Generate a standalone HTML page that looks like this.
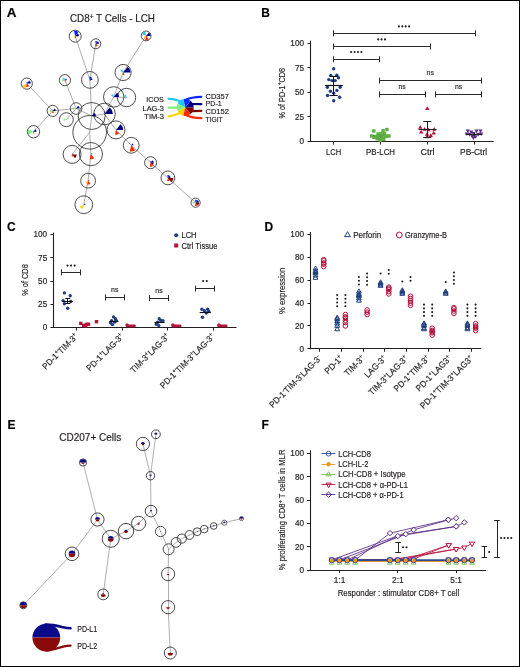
<!DOCTYPE html>
<html><head><meta charset="utf-8"><style>
html,body{margin:0;padding:0;background:#fff;}
svg{display:block;will-change:transform;}
text{font-family:"Liberation Sans", sans-serif;stroke:#231f20;stroke-width:0.18px;}
</style></head><body>
<svg width="520" height="667" viewBox="0 0 520 667">
<rect width="520" height="667" fill="#fff"/>
<rect x="0.5" y="0.5" width="519" height="666" fill="none" stroke="#000" stroke-width="1"/>
<text x="6.8" y="17.1" font-size="12" text-anchor="start" fill="#000" font-weight="bold" transform="translate(6.8 17.1) scale(1.12 1) translate(-6.8 -17.1)">A</text>
<text x="261.2" y="16.9" font-size="12" text-anchor="start" fill="#000" font-weight="bold">B</text>
<text x="7" y="230.7" font-size="12" text-anchor="start" fill="#000" font-weight="bold">C</text>
<text x="264.6" y="230.8" font-size="12" text-anchor="start" fill="#000" font-weight="bold">D</text>
<text x="7.6" y="428.8" font-size="12" text-anchor="start" fill="#000" font-weight="bold">E</text>
<text x="261.5" y="428.8" font-size="12" text-anchor="start" fill="#000" font-weight="bold">F</text>
<text x="70" y="22.3" font-size="10.4" text-anchor="start" fill="#231f20" textLength="85" lengthAdjust="spacingAndGlyphs">CD8<tspan font-size="7" dy="-3.6">+</tspan><tspan dy="3.6"> T Cells - LCH</tspan></text>
<line x1="75.2" y1="36.2" x2="89.9" y2="79.9" stroke="#9c9c9c" stroke-width="0.85"/>
<line x1="95.8" y1="43.8" x2="89.9" y2="79.9" stroke="#9c9c9c" stroke-width="0.85"/>
<line x1="146.1" y1="35.9" x2="123.1" y2="72.5" stroke="#9c9c9c" stroke-width="0.85"/>
<line x1="123.1" y1="72.5" x2="113.7" y2="96.9" stroke="#9c9c9c" stroke-width="0.85"/>
<line x1="113.7" y1="96.9" x2="104.5" y2="114" stroke="#9c9c9c" stroke-width="0.85"/>
<line x1="113.7" y1="96.9" x2="126.5" y2="97.5" stroke="#9c9c9c" stroke-width="0.85"/>
<line x1="89.9" y1="79.9" x2="91.7" y2="116" stroke="#9c9c9c" stroke-width="0.85"/>
<line x1="91.7" y1="116" x2="89.7" y2="132.3" stroke="#9c9c9c" stroke-width="0.85"/>
<line x1="89.7" y1="132.3" x2="90.9" y2="154.1" stroke="#9c9c9c" stroke-width="0.85"/>
<line x1="90.9" y1="154.1" x2="88.1" y2="180.7" stroke="#9c9c9c" stroke-width="0.85"/>
<line x1="88.1" y1="180.7" x2="83.8" y2="204.7" stroke="#9c9c9c" stroke-width="0.85"/>
<line x1="64.9" y1="80.2" x2="76.1" y2="108.5" stroke="#9c9c9c" stroke-width="0.85"/>
<line x1="26.8" y1="83.6" x2="52.7" y2="110.9" stroke="#9c9c9c" stroke-width="0.85"/>
<line x1="52.7" y1="110.9" x2="76.1" y2="108.5" stroke="#9c9c9c" stroke-width="0.85"/>
<line x1="52.7" y1="110.9" x2="33.5" y2="131.7" stroke="#9c9c9c" stroke-width="0.85"/>
<line x1="76.1" y1="108.5" x2="91.7" y2="116" stroke="#9c9c9c" stroke-width="0.85"/>
<line x1="66.3" y1="119.7" x2="76.1" y2="108.5" stroke="#9c9c9c" stroke-width="0.85"/>
<line x1="91.7" y1="116" x2="104.5" y2="114" stroke="#9c9c9c" stroke-width="0.85"/>
<line x1="104.5" y1="114" x2="116" y2="129.9" stroke="#9c9c9c" stroke-width="0.85"/>
<line x1="116" y1="129.9" x2="131.2" y2="145.3" stroke="#9c9c9c" stroke-width="0.85"/>
<line x1="131.2" y1="145.3" x2="150.6" y2="162.7" stroke="#9c9c9c" stroke-width="0.85"/>
<line x1="150.6" y1="162.7" x2="167.9" y2="177.9" stroke="#9c9c9c" stroke-width="0.85"/>
<line x1="167.9" y1="177.9" x2="195.6" y2="202.7" stroke="#9c9c9c" stroke-width="0.85"/>
<line x1="89.7" y1="132.3" x2="72.1" y2="154.4" stroke="#9c9c9c" stroke-width="0.85"/>
<circle cx="75.2" cy="36.2" r="6" fill="none" stroke="#3a3a3a" stroke-width="0.9"/>
<circle cx="95.8" cy="43.8" r="5" fill="none" stroke="#3a3a3a" stroke-width="0.9"/>
<circle cx="146.1" cy="35.9" r="4.9" fill="none" stroke="#3a3a3a" stroke-width="0.9"/>
<circle cx="89.9" cy="79.9" r="8.4" fill="none" stroke="#3a3a3a" stroke-width="0.9"/>
<circle cx="64.9" cy="80.2" r="5.6" fill="none" stroke="#3a3a3a" stroke-width="0.9"/>
<circle cx="26.8" cy="83.6" r="5.6" fill="none" stroke="#3a3a3a" stroke-width="0.9"/>
<circle cx="123.1" cy="72.5" r="8.1" fill="none" stroke="#3a3a3a" stroke-width="0.9"/>
<circle cx="113.7" cy="96.9" r="10.2" fill="none" stroke="#3a3a3a" stroke-width="0.9"/>
<circle cx="126.5" cy="97.5" r="9.2" fill="none" stroke="#3a3a3a" stroke-width="0.9"/>
<circle cx="52.7" cy="110.9" r="5.6" fill="none" stroke="#3a3a3a" stroke-width="0.9"/>
<circle cx="76.1" cy="108.5" r="5.8" fill="none" stroke="#3a3a3a" stroke-width="0.9"/>
<circle cx="66.3" cy="119.7" r="7" fill="none" stroke="#3a3a3a" stroke-width="0.9"/>
<circle cx="91.7" cy="116" r="13.5" fill="none" stroke="#3a3a3a" stroke-width="0.9"/>
<circle cx="104.5" cy="114" r="10.8" fill="none" stroke="#3a3a3a" stroke-width="0.9"/>
<circle cx="89.7" cy="132.3" r="16.8" fill="none" stroke="#3a3a3a" stroke-width="0.9"/>
<circle cx="116" cy="129.9" r="9" fill="none" stroke="#3a3a3a" stroke-width="0.9"/>
<circle cx="131.2" cy="145.3" r="7.9" fill="none" stroke="#3a3a3a" stroke-width="0.9"/>
<circle cx="150.6" cy="162.7" r="6" fill="none" stroke="#3a3a3a" stroke-width="0.9"/>
<circle cx="72.1" cy="154.4" r="9" fill="none" stroke="#3a3a3a" stroke-width="0.9"/>
<circle cx="90.9" cy="154.1" r="11.6" fill="none" stroke="#3a3a3a" stroke-width="0.9"/>
<circle cx="88.1" cy="180.7" r="7.4" fill="none" stroke="#3a3a3a" stroke-width="0.9"/>
<circle cx="83.8" cy="204.7" r="8.9" fill="none" stroke="#3a3a3a" stroke-width="0.9"/>
<circle cx="33.5" cy="131.7" r="6.2" fill="none" stroke="#3a3a3a" stroke-width="0.9"/>
<circle cx="167.9" cy="177.9" r="6.9" fill="none" stroke="#3a3a3a" stroke-width="0.9"/>
<circle cx="195.6" cy="202.7" r="4.6" fill="none" stroke="#3a3a3a" stroke-width="0.9"/>
<path d="M75.2,36.2 L79,36.2 A3.8,3.8 0 0 0 77.57,33.23 Z" fill="#00007f"/>
<path d="M75.2,36.2 L78.57,31.98 A5.4,5.4 0 0 0 74,30.94 Z" fill="#0a28ff"/>
<path d="M75.2,36.2 L75.09,35.71 A0.5,0.5 0 0 0 74.75,35.98 Z" fill="#1ec8f8"/>
<path d="M75.2,36.2 L74.48,35.85 A0.8,0.8 0 0 0 74.48,36.55 Z" fill="#7df07d"/>
<path d="M75.2,36.2 L73.85,36.85 A1.5,1.5 0 0 0 74.87,37.66 Z" fill="#ffd400"/>
<path d="M75.2,36.2 L74.8,37.95 A1.8,1.8 0 0 0 76.32,37.61 Z" fill="#ff2a00"/>
<path d="M75.2,36.2 L75.82,36.98 A1,1 0 0 0 76.2,36.2 Z" fill="#7f0000"/>
<path d="M95.8,43.8 L99,43.8 A3.2,3.2 0 0 0 97.8,41.3 Z" fill="#00007f"/>
<path d="M95.8,43.8 L97.55,41.61 A2.8,2.8 0 0 0 95.18,41.07 Z" fill="#0a28ff"/>
<path d="M95.8,43.8 L95.69,43.31 A0.5,0.5 0 0 0 95.35,43.58 Z" fill="#1ec8f8"/>
<path d="M95.8,43.8 L95.35,43.58 A0.5,0.5 0 0 0 95.35,44.02 Z" fill="#7df07d"/>
<path d="M95.8,43.8 L95.26,44.06 A0.6,0.6 0 0 0 95.67,44.38 Z" fill="#ffd400"/>
<path d="M95.8,43.8 L95.18,46.53 A2.8,2.8 0 0 0 97.55,45.99 Z" fill="#ff2a00"/>
<path d="M95.8,43.8 L96.74,44.97 A1.5,1.5 0 0 0 97.3,43.8 Z" fill="#7f0000"/>
<path d="M146.1,35.9 L150.5,35.9 A4.4,4.4 0 0 0 148.84,32.46 Z" fill="#00007f"/>
<path d="M146.1,35.9 L146.47,35.43 A0.6,0.6 0 0 0 145.97,35.32 Z" fill="#0a28ff"/>
<path d="M146.1,35.9 L145.12,31.61 A4.4,4.4 0 0 0 142.14,33.99 Z" fill="#1ec8f8"/>
<path d="M146.1,35.9 L145.56,35.64 A0.6,0.6 0 0 0 145.56,36.16 Z" fill="#7df07d"/>
<path d="M146.1,35.9 L143.85,36.98 A2.5,2.5 0 0 0 145.54,38.34 Z" fill="#ffd400"/>
<path d="M146.1,35.9 L145.12,40.19 A4.4,4.4 0 0 0 148.84,39.34 Z" fill="#ff2a00"/>
<path d="M146.1,35.9 L146.85,36.84 A1.2,1.2 0 0 0 147.3,35.9 Z" fill="#7f0000"/>
<path d="M89.9,79.9 L92.4,79.9 A2.5,2.5 0 0 0 91.46,77.95 Z" fill="#00007f"/>
<path d="M89.9,79.9 L91.9,77.4 A3.2,3.2 0 0 0 89.19,76.78 Z" fill="#0a28ff"/>
<path d="M89.9,79.9 L89.81,79.51 A0.4,0.4 0 0 0 89.54,79.73 Z" fill="#1ec8f8"/>
<path d="M89.9,79.9 L89.54,79.73 A0.4,0.4 0 0 0 89.54,80.07 Z" fill="#7df07d"/>
<path d="M89.9,79.9 L89.36,80.16 A0.6,0.6 0 0 0 89.77,80.48 Z" fill="#ffd400"/>
<path d="M89.9,79.9 L89.68,80.87 A1,1 0 0 0 90.52,80.68 Z" fill="#ff2a00"/>
<path d="M89.9,79.9 L90.52,80.68 A1,1 0 0 0 90.9,79.9 Z" fill="#7f0000"/>
<path d="M64.9,80.2 L66.9,80.2 A2,2 0 0 0 66.15,78.64 Z" fill="#00007f"/>
<path d="M64.9,80.2 L65.84,79.03 A1.5,1.5 0 0 0 64.57,78.74 Z" fill="#0a28ff"/>
<path d="M64.9,80.2 L64.28,77.47 A2.8,2.8 0 0 0 62.38,78.99 Z" fill="#1ec8f8"/>
<path d="M64.9,80.2 L62.2,78.9 A3,3 0 0 0 62.2,81.5 Z" fill="#7df07d"/>
<path d="M64.9,80.2 L64.36,80.46 A0.6,0.6 0 0 0 64.77,80.78 Z" fill="#ffd400"/>
<path d="M64.9,80.2 L64.63,81.37 A1.2,1.2 0 0 0 65.65,81.14 Z" fill="#ff2a00"/>
<path d="M64.9,80.2 L65.27,80.67 A0.6,0.6 0 0 0 65.5,80.2 Z" fill="#7f0000"/>
<path d="M26.8,83.6 L30.8,83.6 A4,4 0 0 0 29.29,80.47 Z" fill="#00007f"/>
<path d="M26.8,83.6 L27.74,82.43 A1.5,1.5 0 0 0 26.47,82.14 Z" fill="#0a28ff"/>
<path d="M26.8,83.6 L26.73,83.31 A0.3,0.3 0 0 0 26.53,83.47 Z" fill="#1ec8f8"/>
<path d="M26.8,83.6 L26.35,83.38 A0.5,0.5 0 0 0 26.35,83.82 Z" fill="#7df07d"/>
<path d="M26.8,83.6 L22.3,85.77 A5,5 0 0 0 25.69,88.47 Z" fill="#ffd400"/>
<path d="M26.8,83.6 L26.02,87.01 A3.5,3.5 0 0 0 28.98,86.34 Z" fill="#ff2a00"/>
<path d="M26.8,83.6 L27.42,84.38 A1,1 0 0 0 27.8,83.6 Z" fill="#7f0000"/>
<path d="M123.1,72.5 L130.6,72.5 A7.5,7.5 0 0 0 127.78,66.64 Z" fill="#00007f"/>
<path d="M123.1,72.5 L123.41,72.11 A0.5,0.5 0 0 0 122.99,72.01 Z" fill="#0a28ff"/>
<path d="M123.1,72.5 L122.39,69.38 A3.2,3.2 0 0 0 120.22,71.11 Z" fill="#1ec8f8"/>
<path d="M123.1,72.5 L122.83,72.37 A0.3,0.3 0 0 0 122.83,72.63 Z" fill="#7df07d"/>
<path d="M123.1,72.5 L122.83,72.63 A0.3,0.3 0 0 0 123.03,72.79 Z" fill="#ffd400"/>
<path d="M123.1,72.5 L122.57,74.84 A2.4,2.4 0 0 0 124.6,74.38 Z" fill="#ff2a00"/>
<path d="M123.1,72.5 L123.41,72.89 A0.5,0.5 0 0 0 123.6,72.5 Z" fill="#7f0000"/>
<path d="M113.7,96.9 L119.1,96.9 A5.4,5.4 0 0 0 117.07,92.68 Z" fill="#00007f"/>
<path d="M113.7,96.9 L113.95,96.59 A0.4,0.4 0 0 0 113.61,96.51 Z" fill="#0a28ff"/>
<path d="M113.7,96.9 L113.08,94.17 A2.8,2.8 0 0 0 111.18,95.69 Z" fill="#1ec8f8"/>
<path d="M113.7,96.9 L113.43,96.77 A0.3,0.3 0 0 0 113.43,97.03 Z" fill="#7df07d"/>
<path d="M113.7,96.9 L113.43,97.03 A0.3,0.3 0 0 0 113.63,97.19 Z" fill="#ffd400"/>
<path d="M113.7,96.9 L113.61,97.29 A0.4,0.4 0 0 0 113.95,97.21 Z" fill="#ff2a00"/>
<path d="M113.7,96.9 L113.89,97.13 A0.3,0.3 0 0 0 114,96.9 Z" fill="#7f0000"/>
<path d="M126.5,97.5 L127.1,97.5 A0.6,0.6 0 0 0 126.87,97.03 Z" fill="#00007f"/>
<path d="M126.5,97.5 L126.69,97.27 A0.3,0.3 0 0 0 126.43,97.21 Z" fill="#0a28ff"/>
<path d="M126.5,97.5 L125.88,94.77 A2.8,2.8 0 0 0 123.98,96.29 Z" fill="#1ec8f8"/>
<path d="M126.5,97.5 L126.23,97.37 A0.3,0.3 0 0 0 126.23,97.63 Z" fill="#7df07d"/>
<path d="M52.7,110.9 L55.7,110.9 A3,3 0 0 0 54.57,108.55 Z" fill="#00007f"/>
<path d="M52.7,110.9 L53.32,110.12 A1,1 0 0 0 52.48,109.93 Z" fill="#0a28ff"/>
<path d="M52.7,110.9 L52.52,110.12 A0.8,0.8 0 0 0 51.98,110.55 Z" fill="#1ec8f8"/>
<path d="M52.7,110.9 L50.18,109.69 A2.8,2.8 0 0 0 50.18,112.11 Z" fill="#7df07d"/>
<path d="M52.7,110.9 L50.72,111.85 A2.2,2.2 0 0 0 52.21,113.04 Z" fill="#ffd400"/>
<path d="M52.7,110.9 L52.21,113.04 A2.2,2.2 0 0 0 54.07,112.62 Z" fill="#ff2a00"/>
<path d="M52.7,110.9 L53.2,111.53 A0.8,0.8 0 0 0 53.5,110.9 Z" fill="#7f0000"/>
<path d="M76.1,108.5 L79.6,108.5 A3.5,3.5 0 0 0 78.28,105.76 Z" fill="#00007f"/>
<path d="M76.1,108.5 L76.47,108.03 A0.6,0.6 0 0 0 75.97,107.92 Z" fill="#0a28ff"/>
<path d="M76.1,108.5 L75.99,108.01 A0.5,0.5 0 0 0 75.65,108.28 Z" fill="#1ec8f8"/>
<path d="M76.1,108.5 L73.58,107.29 A2.8,2.8 0 0 0 73.58,109.71 Z" fill="#7df07d"/>
<path d="M76.1,108.5 L75.83,108.63 A0.3,0.3 0 0 0 76.03,108.79 Z" fill="#ffd400"/>
<path d="M76.1,108.5 L76.01,108.89 A0.4,0.4 0 0 0 76.35,108.81 Z" fill="#ff2a00"/>
<path d="M76.1,108.5 L76.29,108.73 A0.3,0.3 0 0 0 76.4,108.5 Z" fill="#7f0000"/>
<path d="M66.3,119.7 L66.6,119.7 A0.3,0.3 0 0 0 66.49,119.47 Z" fill="#00007f"/>
<path d="M66.3,119.7 L66.21,119.31 A0.4,0.4 0 0 0 65.94,119.53 Z" fill="#1ec8f8"/>
<path d="M66.3,119.7 L63.78,118.49 A2.8,2.8 0 0 0 63.78,120.91 Z" fill="#7df07d"/>
<path d="M91.7,116 L95.9,116 A4.2,4.2 0 0 0 94.32,112.72 Z" fill="#00007f"/>
<path d="M91.7,116 L91.95,115.69 A0.4,0.4 0 0 0 91.61,115.61 Z" fill="#0a28ff"/>
<path d="M91.7,116 L91.63,115.71 A0.3,0.3 0 0 0 91.43,115.87 Z" fill="#1ec8f8"/>
<path d="M91.7,116 L91.63,116.29 A0.3,0.3 0 0 0 91.89,116.23 Z" fill="#ff2a00"/>
<path d="M104.5,114 L112.7,114 A8.2,8.2 0 0 0 109.61,107.59 Z" fill="#00007f"/>
<path d="M104.5,114 L104.75,113.69 A0.4,0.4 0 0 0 104.41,113.61 Z" fill="#0a28ff"/>
<path d="M104.5,114 L104.43,113.71 A0.3,0.3 0 0 0 104.23,113.87 Z" fill="#1ec8f8"/>
<path d="M104.5,114 L104.43,114.29 A0.3,0.3 0 0 0 104.69,114.23 Z" fill="#ff2a00"/>
<path d="M104.5,114 L104.69,114.23 A0.3,0.3 0 0 0 104.8,114 Z" fill="#7f0000"/>
<path d="M89.7,132.3 L90,132.3 A0.3,0.3 0 0 0 89.89,132.07 Z" fill="#00007f"/>
<path d="M116,129.9 L123.2,129.9 A7.2,7.2 0 0 0 120.49,124.27 Z" fill="#00007f"/>
<path d="M116,129.9 L116.25,129.59 A0.4,0.4 0 0 0 115.91,129.51 Z" fill="#0a28ff"/>
<path d="M116,129.9 L115.93,129.61 A0.3,0.3 0 0 0 115.73,129.77 Z" fill="#1ec8f8"/>
<path d="M116,129.9 L114.93,134.58 A4.8,4.8 0 0 0 118.99,133.65 Z" fill="#ff2a00"/>
<path d="M116,129.9 L116.25,130.21 A0.4,0.4 0 0 0 116.4,129.9 Z" fill="#7f0000"/>
<path d="M131.2,145.3 L133.4,145.3 A2.2,2.2 0 0 0 132.57,143.58 Z" fill="#00007f"/>
<path d="M131.2,145.3 L131.57,144.83 A0.6,0.6 0 0 0 131.07,144.72 Z" fill="#0a28ff"/>
<path d="M131.2,145.3 L129.8,151.44 A6.3,6.3 0 0 0 135.13,150.23 Z" fill="#ff2a00"/>
<path d="M131.2,145.3 L131.51,145.69 A0.5,0.5 0 0 0 131.7,145.3 Z" fill="#7f0000"/>
<path d="M150.6,162.7 L153.8,162.7 A3.2,3.2 0 0 0 152.6,160.2 Z" fill="#00007f"/>
<path d="M150.6,162.7 L151.72,161.29 A1.8,1.8 0 0 0 150.2,160.95 Z" fill="#0a28ff"/>
<path d="M150.6,162.7 L150.53,162.41 A0.3,0.3 0 0 0 150.33,162.57 Z" fill="#1ec8f8"/>
<path d="M150.6,162.7 L150.33,162.57 A0.3,0.3 0 0 0 150.33,162.83 Z" fill="#7df07d"/>
<path d="M150.6,162.7 L150.15,162.92 A0.5,0.5 0 0 0 150.49,163.19 Z" fill="#ffd400"/>
<path d="M150.6,162.7 L149.71,166.6 A4,4 0 0 0 153.09,165.83 Z" fill="#ff2a00"/>
<path d="M150.6,162.7 L152.47,165.05 A3,3 0 0 0 153.6,162.7 Z" fill="#7f0000"/>
<path d="M72.1,154.4 L73.1,154.4 A1,1 0 0 0 72.72,153.62 Z" fill="#00007f"/>
<path d="M72.1,154.4 L72.29,154.17 A0.3,0.3 0 0 0 72.03,154.11 Z" fill="#0a28ff"/>
<path d="M72.1,154.4 L71.83,154.53 A0.3,0.3 0 0 0 72.03,154.69 Z" fill="#ffd400"/>
<path d="M72.1,154.4 L71.65,156.35 A2,2 0 0 0 73.35,155.96 Z" fill="#ff2a00"/>
<path d="M72.1,154.4 L74.97,158 A4.6,4.6 0 0 0 76.7,154.4 Z" fill="#7f0000"/>
<path d="M90.9,154.1 L91.9,154.1 A1,1 0 0 0 91.52,153.32 Z" fill="#00007f"/>
<path d="M90.9,154.1 L91.21,153.71 A0.5,0.5 0 0 0 90.79,153.61 Z" fill="#0a28ff"/>
<path d="M90.9,154.1 L90.63,154.23 A0.3,0.3 0 0 0 90.83,154.39 Z" fill="#ffd400"/>
<path d="M90.9,154.1 L89.74,159.17 A5.2,5.2 0 0 0 94.14,158.17 Z" fill="#ff2a00"/>
<path d="M90.9,154.1 L91.27,154.57 A0.6,0.6 0 0 0 91.5,154.1 Z" fill="#7f0000"/>
<path d="M88.1,180.7 L89.3,180.7 A1.2,1.2 0 0 0 88.85,179.76 Z" fill="#00007f"/>
<path d="M88.1,180.7 L88.41,180.31 A0.5,0.5 0 0 0 87.99,180.21 Z" fill="#0a28ff"/>
<path d="M88.1,180.7 L85.4,182 A3,3 0 0 0 87.43,183.62 Z" fill="#ffd400"/>
<path d="M88.1,180.7 L87.25,184.4 A3.8,3.8 0 0 0 90.47,183.67 Z" fill="#ff2a00"/>
<path d="M88.1,180.7 L88.47,181.17 A0.6,0.6 0 0 0 88.7,180.7 Z" fill="#7f0000"/>
<path d="M83.8,204.7 L85.4,204.7 A1.6,1.6 0 0 0 84.8,203.45 Z" fill="#00007f"/>
<path d="M83.8,204.7 L84.05,204.39 A0.4,0.4 0 0 0 83.71,204.31 Z" fill="#0a28ff"/>
<path d="M83.8,204.7 L79.84,206.61 A4.4,4.4 0 0 0 82.82,208.99 Z" fill="#ffd400"/>
<path d="M83.8,204.7 L83.69,205.19 A0.5,0.5 0 0 0 84.11,205.09 Z" fill="#ff2a00"/>
<path d="M83.8,204.7 L83.99,204.93 A0.3,0.3 0 0 0 84.1,204.7 Z" fill="#7f0000"/>
<path d="M33.5,131.7 L36.5,131.7 A3,3 0 0 0 35.37,129.35 Z" fill="#00007f"/>
<path d="M33.5,131.7 L34.12,130.92 A1,1 0 0 0 33.28,130.73 Z" fill="#0a28ff"/>
<path d="M33.5,131.7 L33.43,131.41 A0.3,0.3 0 0 0 33.23,131.57 Z" fill="#1ec8f8"/>
<path d="M33.5,131.7 L28.45,129.27 A5.6,5.6 0 0 0 28.45,134.13 Z" fill="#7df07d"/>
<path d="M33.5,131.7 L32.96,131.96 A0.6,0.6 0 0 0 33.37,132.28 Z" fill="#ffd400"/>
<path d="M33.5,131.7 L33.1,133.45 A1.8,1.8 0 0 0 34.62,133.11 Z" fill="#ff2a00"/>
<path d="M33.5,131.7 L33.87,132.17 A0.6,0.6 0 0 0 34.1,131.7 Z" fill="#7f0000"/>
<path d="M167.9,177.9 L170.5,177.9 A2.6,2.6 0 0 0 169.52,175.87 Z" fill="#00007f"/>
<path d="M167.9,177.9 L169.77,175.55 A3,3 0 0 0 167.23,174.98 Z" fill="#0a28ff"/>
<path d="M167.9,177.9 L167.83,177.61 A0.3,0.3 0 0 0 167.63,177.77 Z" fill="#1ec8f8"/>
<path d="M167.9,177.9 L167.63,177.77 A0.3,0.3 0 0 0 167.63,178.03 Z" fill="#7df07d"/>
<path d="M167.9,177.9 L167,178.33 A1,1 0 0 0 167.68,178.87 Z" fill="#ffd400"/>
<path d="M167.9,177.9 L167.19,181.02 A3.2,3.2 0 0 0 169.9,180.4 Z" fill="#ff2a00"/>
<path d="M167.9,177.9 L171.33,182.2 A5.5,5.5 0 0 0 173.4,177.9 Z" fill="#7f0000"/>
<path d="M195.6,202.7 L199,202.7 A3.4,3.4 0 0 0 197.72,200.04 Z" fill="#00007f"/>
<path d="M195.6,202.7 L197.47,200.35 A3,3 0 0 0 194.93,199.78 Z" fill="#0a28ff"/>
<path d="M195.6,202.7 L195.49,202.21 A0.5,0.5 0 0 0 195.15,202.48 Z" fill="#1ec8f8"/>
<path d="M195.6,202.7 L192.9,201.4 A3,3 0 0 0 192.9,204 Z" fill="#7df07d"/>
<path d="M195.6,202.7 L195.06,202.96 A0.6,0.6 0 0 0 195.47,203.28 Z" fill="#ffd400"/>
<path d="M195.6,202.7 L194.84,206.01 A3.4,3.4 0 0 0 197.72,205.36 Z" fill="#ff2a00"/>
<path d="M195.6,202.7 L197.84,205.51 A3.6,3.6 0 0 0 199.2,202.7 Z" fill="#7f0000"/>
<path d="M168.6,98.8 C172,98.6 175,99.4 180.5,101.2" fill="none" stroke="#1ec8f8" stroke-width="2.2" stroke-linecap="round"/>
<path d="M168.6,107.6 L178,107.6" fill="none" stroke="#7df07d" stroke-width="2.2" stroke-linecap="round"/>
<path d="M168.6,116.3 C172,116.3 175,115 179.5,113.2" fill="none" stroke="#ffd400" stroke-width="2.2" stroke-linecap="round"/>
<path d="M186.5,99.5 C190,97.6 195,97 201.3,96.8" fill="none" stroke="#0a28ff" stroke-width="2.2" stroke-linecap="round"/>
<path d="M192,104 L201.3,104.2" fill="none" stroke="#00007f" stroke-width="2.2" stroke-linecap="round"/>
<path d="M192,111.2 L201.3,110.8" fill="none" stroke="#7f0000" stroke-width="2.2" stroke-linecap="round"/>
<path d="M187,115.5 C191,117.5 195,118 201.3,118.2" fill="none" stroke="#ff2a00" stroke-width="2.2" stroke-linecap="round"/>
<path d="M185.2,107.4 L193.7,107.4 A8.5,8.5 0 0 0 190.5,100.75 Z" fill="#00007f"/>
<path d="M185.2,107.4 L190.5,100.75 A8.5,8.5 0 0 0 183.31,99.11 Z" fill="#0a28ff"/>
<path d="M185.2,107.4 L183.31,99.11 A8.5,8.5 0 0 0 177.54,103.71 Z" fill="#1ec8f8"/>
<path d="M185.2,107.4 L177.54,103.71 A8.5,8.5 0 0 0 177.54,111.09 Z" fill="#7df07d"/>
<path d="M185.2,107.4 L177.54,111.09 A8.5,8.5 0 0 0 183.31,115.69 Z" fill="#ffd400"/>
<path d="M185.2,107.4 L183.31,115.69 A8.5,8.5 0 0 0 190.5,114.05 Z" fill="#ff2a00"/>
<path d="M185.2,107.4 L190.5,114.05 A8.5,8.5 0 0 0 193.7,107.4 Z" fill="#7f0000"/>
<text x="163.9" y="101.8" font-size="7.6" text-anchor="end" fill="#231f20" textLength="17.6" lengthAdjust="spacingAndGlyphs">ICOS</text>
<text x="163.9" y="110.5" font-size="7.6" text-anchor="end" fill="#231f20" textLength="21.3" lengthAdjust="spacingAndGlyphs">LAG-3</text>
<text x="163.9" y="119.4" font-size="7.6" text-anchor="end" fill="#231f20" textLength="19.6" lengthAdjust="spacingAndGlyphs">TIM-3</text>
<text x="205.6" y="98.8" font-size="7.6" text-anchor="start" fill="#231f20" textLength="23.2" lengthAdjust="spacingAndGlyphs">CD357</text>
<text x="205.6" y="106.3" font-size="7.6" text-anchor="start" fill="#231f20" textLength="16.2" lengthAdjust="spacingAndGlyphs">PD-1</text>
<text x="205.6" y="113.9" font-size="7.6" text-anchor="start" fill="#231f20" textLength="23.2" lengthAdjust="spacingAndGlyphs">CD152</text>
<text x="205.6" y="121.6" font-size="7.6" text-anchor="start" fill="#231f20" textLength="17.1" lengthAdjust="spacingAndGlyphs">TIGIT</text>
<line x1="310.5" y1="40.7" x2="310.5" y2="142" stroke="#231f20" stroke-width="1.1"/>
<line x1="310" y1="141.5" x2="493.7" y2="141.5" stroke="#231f20" stroke-width="1.1"/>
<line x1="307.5" y1="141.5" x2="310.5" y2="141.5" stroke="#231f20" stroke-width="1"/>
<text x="304" y="144.4" font-size="8.2" text-anchor="end" fill="#231f20">0</text>
<line x1="307.5" y1="116.5" x2="310.5" y2="116.5" stroke="#231f20" stroke-width="1"/>
<text x="304" y="119.85" font-size="8.2" text-anchor="end" fill="#231f20">25</text>
<line x1="307.5" y1="92.5" x2="310.5" y2="92.5" stroke="#231f20" stroke-width="1"/>
<text x="304" y="95.3" font-size="8.2" text-anchor="end" fill="#231f20">50</text>
<line x1="307.5" y1="67.5" x2="310.5" y2="67.5" stroke="#231f20" stroke-width="1"/>
<text x="304" y="70.75" font-size="8.2" text-anchor="end" fill="#231f20">75</text>
<line x1="307.5" y1="43.5" x2="310.5" y2="43.5" stroke="#231f20" stroke-width="1"/>
<text x="304" y="46.2" font-size="8.2" text-anchor="end" fill="#231f20">100</text>
<line x1="333.5" y1="141.5" x2="333.5" y2="144.5" stroke="#231f20" stroke-width="1"/>
<line x1="380.5" y1="141.5" x2="380.5" y2="144.5" stroke="#231f20" stroke-width="1"/>
<line x1="427.5" y1="141.5" x2="427.5" y2="144.5" stroke="#231f20" stroke-width="1"/>
<line x1="474.5" y1="141.5" x2="474.5" y2="144.5" stroke="#231f20" stroke-width="1"/>
<text x="333.6" y="155" font-size="8.5" text-anchor="middle" fill="#231f20" textLength="15.2" lengthAdjust="spacingAndGlyphs">LCH</text>
<text x="380.6" y="155" font-size="8.5" text-anchor="middle" fill="#231f20" textLength="29" lengthAdjust="spacingAndGlyphs">PB-LCH</text>
<text x="427.4" y="155" font-size="8.5" text-anchor="middle" fill="#231f20" textLength="14" lengthAdjust="spacingAndGlyphs">Ctrl</text>
<text x="473.6" y="155" font-size="8.5" text-anchor="middle" fill="#231f20" textLength="27" lengthAdjust="spacingAndGlyphs">PB-Ctrl</text>
<text x="284.6" y="93.2" font-size="8.8" text-anchor="middle" fill="#231f20" textLength="50.7" lengthAdjust="spacingAndGlyphs" transform="rotate(-90 284.6 93.2)">% of PD-1<tspan font-size="6" dy="-3.4">+</tspan><tspan dy="3.4">CD8</tspan></text>
<line x1="333" y1="33.5" x2="475" y2="33.5" stroke="#2a2a2a" stroke-width="1.0"/>
<line x1="333.5" y1="30.3" x2="333.5" y2="36.3" stroke="#2a2a2a" stroke-width="1.0"/>
<line x1="475.5" y1="30.3" x2="475.5" y2="36.3" stroke="#2a2a2a" stroke-width="1.0"/>
<circle cx="398.9" cy="26.4" r="1.05" fill="#1c1c1c" stroke="none" stroke-width="1"/>
<circle cx="402.3" cy="26.4" r="1.05" fill="#1c1c1c" stroke="none" stroke-width="1"/>
<circle cx="405.7" cy="26.4" r="1.05" fill="#1c1c1c" stroke="none" stroke-width="1"/>
<circle cx="409.1" cy="26.4" r="1.05" fill="#1c1c1c" stroke="none" stroke-width="1"/>
<line x1="333" y1="46.5" x2="430" y2="46.5" stroke="#2a2a2a" stroke-width="1.0"/>
<line x1="333.5" y1="43.5" x2="333.5" y2="49.5" stroke="#2a2a2a" stroke-width="1.0"/>
<line x1="430.5" y1="43.5" x2="430.5" y2="49.5" stroke="#2a2a2a" stroke-width="1.0"/>
<circle cx="378.2" cy="39.4" r="1.05" fill="#1c1c1c" stroke="none" stroke-width="1"/>
<circle cx="381.6" cy="39.4" r="1.05" fill="#1c1c1c" stroke="none" stroke-width="1"/>
<circle cx="385" cy="39.4" r="1.05" fill="#1c1c1c" stroke="none" stroke-width="1"/>
<line x1="333" y1="59.5" x2="379.2" y2="59.5" stroke="#2a2a2a" stroke-width="1.0"/>
<line x1="333.5" y1="56.3" x2="333.5" y2="62.3" stroke="#2a2a2a" stroke-width="1.0"/>
<line x1="379.5" y1="56.3" x2="379.5" y2="62.3" stroke="#2a2a2a" stroke-width="1.0"/>
<circle cx="351.2" cy="52" r="1.05" fill="#1c1c1c" stroke="none" stroke-width="1"/>
<circle cx="354.6" cy="52" r="1.05" fill="#1c1c1c" stroke="none" stroke-width="1"/>
<circle cx="358" cy="52" r="1.05" fill="#1c1c1c" stroke="none" stroke-width="1"/>
<circle cx="361.4" cy="52" r="1.05" fill="#1c1c1c" stroke="none" stroke-width="1"/>
<line x1="379" y1="80.5" x2="481.7" y2="80.5" stroke="#2a2a2a" stroke-width="1.0"/>
<line x1="379.5" y1="77.6" x2="379.5" y2="83.6" stroke="#2a2a2a" stroke-width="1.0"/>
<line x1="481.5" y1="77.6" x2="481.5" y2="83.6" stroke="#2a2a2a" stroke-width="1.0"/>
<text x="430.2" y="75" font-size="7.5" text-anchor="middle" fill="#333" textLength="7.2" lengthAdjust="spacingAndGlyphs">ns</text>
<line x1="379" y1="94.5" x2="425.1" y2="94.5" stroke="#2a2a2a" stroke-width="1.0"/>
<line x1="379.5" y1="91.4" x2="379.5" y2="97.4" stroke="#2a2a2a" stroke-width="1.0"/>
<line x1="425.5" y1="91.4" x2="425.5" y2="97.4" stroke="#2a2a2a" stroke-width="1.0"/>
<text x="402" y="89" font-size="7.5" text-anchor="middle" fill="#333" textLength="7.2" lengthAdjust="spacingAndGlyphs">ns</text>
<line x1="435.3" y1="94.5" x2="481.7" y2="94.5" stroke="#2a2a2a" stroke-width="1.0"/>
<line x1="435.5" y1="91.4" x2="435.5" y2="97.4" stroke="#2a2a2a" stroke-width="1.0"/>
<line x1="481.5" y1="91.4" x2="481.5" y2="97.4" stroke="#2a2a2a" stroke-width="1.0"/>
<text x="458.5" y="89" font-size="7.5" text-anchor="middle" fill="#333" textLength="7.2" lengthAdjust="spacingAndGlyphs">ns</text>
<circle cx="333.7" cy="68.7" r="1.7" fill="#1f3d84" stroke="none" stroke-width="1"/>
<circle cx="330.8" cy="75.4" r="1.7" fill="#1f3d84" stroke="none" stroke-width="1"/>
<circle cx="336.8" cy="75.2" r="1.7" fill="#1f3d84" stroke="none" stroke-width="1"/>
<circle cx="338.5" cy="77.7" r="1.7" fill="#1f3d84" stroke="none" stroke-width="1"/>
<circle cx="328.8" cy="79.6" r="1.7" fill="#1f3d84" stroke="none" stroke-width="1"/>
<circle cx="331.9" cy="80.6" r="1.7" fill="#1f3d84" stroke="none" stroke-width="1"/>
<circle cx="335.2" cy="80.6" r="1.7" fill="#1f3d84" stroke="none" stroke-width="1"/>
<circle cx="327.3" cy="87.3" r="1.7" fill="#1f3d84" stroke="none" stroke-width="1"/>
<circle cx="340.2" cy="87.3" r="1.7" fill="#1f3d84" stroke="none" stroke-width="1"/>
<circle cx="330.4" cy="91.2" r="1.7" fill="#1f3d84" stroke="none" stroke-width="1"/>
<circle cx="336.9" cy="90.4" r="1.7" fill="#1f3d84" stroke="none" stroke-width="1"/>
<circle cx="333.7" cy="93.2" r="1.7" fill="#1f3d84" stroke="none" stroke-width="1"/>
<circle cx="327.5" cy="95.5" r="1.7" fill="#1f3d84" stroke="none" stroke-width="1"/>
<circle cx="339.6" cy="97.3" r="1.7" fill="#1f3d84" stroke="none" stroke-width="1"/>
<circle cx="333.7" cy="100.8" r="1.7" fill="#1f3d84" stroke="none" stroke-width="1"/>
<line x1="324.8" y1="85.5" x2="342.8" y2="85.5" stroke="#111" stroke-width="1.2"/>
<line x1="333.5" y1="76.4" x2="333.5" y2="95" stroke="#111" stroke-width="1.0"/>
<line x1="329.7" y1="76.5" x2="337.7" y2="76.5" stroke="#111" stroke-width="1.0"/>
<line x1="329.7" y1="95.5" x2="337.7" y2="95.5" stroke="#111" stroke-width="1.0"/>
<line x1="371.2" y1="135.5" x2="389.6" y2="135.5" stroke="#222" stroke-width="1.0"/>
<line x1="380.5" y1="133.5" x2="380.5" y2="138" stroke="#222" stroke-width="1.0"/>
<rect x="372.1" y="129.3" width="3.4" height="3.4" fill="#5fae43"/>
<rect x="381.4" y="129.1" width="3.4" height="3.4" fill="#5fae43"/>
<rect x="385.2" y="127.9" width="3.4" height="3.4" fill="#5fae43"/>
<rect x="376.3" y="132.3" width="3.4" height="3.4" fill="#5fae43"/>
<rect x="379.3" y="131.9" width="3.4" height="3.4" fill="#5fae43"/>
<rect x="382.8" y="131.9" width="3.4" height="3.4" fill="#5fae43"/>
<rect x="373.9" y="134.7" width="3.4" height="3.4" fill="#5fae43"/>
<rect x="383.5" y="134.7" width="3.4" height="3.4" fill="#5fae43"/>
<rect x="377.5" y="137.3" width="3.4" height="3.4" fill="#5fae43"/>
<rect x="380.6" y="137.1" width="3.4" height="3.4" fill="#5fae43"/>
<rect x="378.5" y="138.7" width="3.4" height="3.4" fill="#5fae43"/>
<rect x="372.3" y="135.7" width="3.4" height="3.4" fill="#5fae43"/>
<rect x="385.3" y="134.3" width="3.4" height="3.4" fill="#5fae43"/>
<rect x="375.5" y="136.9" width="3.4" height="3.4" fill="#5fae43"/>
<rect x="382.1" y="137.7" width="3.4" height="3.4" fill="#5fae43"/>
<rect x="376.9" y="134.5" width="3.4" height="3.4" fill="#5fae43"/>
<rect x="380.3" y="134.3" width="3.4" height="3.4" fill="#5fae43"/>
<rect x="369.9" y="134.3" width="3.4" height="3.4" fill="#5fae43"/>
<rect x="387.3" y="134.3" width="3.4" height="3.4" fill="#5fae43"/>
<polygon points="425.15,109.94 429.45,109.94 427.3,106.22" fill="#b8113b" stroke="none" stroke-width="1"/>
<polygon points="418.05,128.74 422.35,128.74 420.2,125.02" fill="#b8113b" stroke="none" stroke-width="1"/>
<polygon points="422.45,130.64 426.75,130.64 424.6,126.92" fill="#b8113b" stroke="none" stroke-width="1"/>
<polygon points="426.35,131.24 430.65,131.24 428.5,127.52" fill="#b8113b" stroke="none" stroke-width="1"/>
<polygon points="432.05,130.64 436.35,130.64 434.2,126.92" fill="#b8113b" stroke="none" stroke-width="1"/>
<polygon points="419.05,133.54 423.35,133.54 421.2,129.82" fill="#b8113b" stroke="none" stroke-width="1"/>
<polygon points="424.85,135.84 429.15,135.84 427,132.12" fill="#b8113b" stroke="none" stroke-width="1"/>
<polygon points="431.55,134.54 435.85,134.54 433.7,130.82" fill="#b8113b" stroke="none" stroke-width="1"/>
<polygon points="428.65,137.04 432.95,137.04 430.8,133.32" fill="#b8113b" stroke="none" stroke-width="1"/>
<polygon points="425.15,138.34 429.45,138.34 427.3,134.62" fill="#b8113b" stroke="none" stroke-width="1"/>
<line x1="418.5" y1="129.5" x2="436.5" y2="129.5" stroke="#222" stroke-width="1.0"/>
<line x1="427.5" y1="121" x2="427.5" y2="137.2" stroke="#222" stroke-width="1.0"/>
<line x1="423.3" y1="121.5" x2="431.3" y2="121.5" stroke="#222" stroke-width="1.0"/>
<line x1="423.3" y1="137.5" x2="431.3" y2="137.5" stroke="#222" stroke-width="1.0"/>
<polygon points="465.7,129.39 469.9,129.39 467.8,133.02" fill="#5b2a86" stroke="none" stroke-width="1"/>
<polygon points="469.1,130.39 473.3,130.39 471.2,134.02" fill="#5b2a86" stroke="none" stroke-width="1"/>
<polygon points="474.4,129.59 478.6,129.59 476.5,133.22" fill="#5b2a86" stroke="none" stroke-width="1"/>
<polygon points="478.4,129.39 482.6,129.39 480.5,133.02" fill="#5b2a86" stroke="none" stroke-width="1"/>
<polygon points="467.4,132.79 471.6,132.79 469.5,136.42" fill="#5b2a86" stroke="none" stroke-width="1"/>
<polygon points="471.4,131.99 475.6,131.99 473.5,135.62" fill="#5b2a86" stroke="none" stroke-width="1"/>
<polygon points="476.1,132.79 480.3,132.79 478.2,136.42" fill="#5b2a86" stroke="none" stroke-width="1"/>
<polygon points="470.2,134.99 474.4,134.99 472.3,138.62" fill="#5b2a86" stroke="none" stroke-width="1"/>
<polygon points="473.5,135.19 477.7,135.19 475.6,138.82" fill="#5b2a86" stroke="none" stroke-width="1"/>
<polygon points="471.3,136.39 475.5,136.39 473.4,140.02" fill="#5b2a86" stroke="none" stroke-width="1"/>
<polygon points="464.7,132.39 468.9,132.39 466.8,136.02" fill="#5b2a86" stroke="none" stroke-width="1"/>
<polygon points="479.1,132.39 483.3,132.39 481.2,136.02" fill="#5b2a86" stroke="none" stroke-width="1"/>
<line x1="465.5" y1="134.5" x2="482.5" y2="134.5" stroke="#222" stroke-width="1.0"/>
<line x1="474.5" y1="132" x2="474.5" y2="136.5" stroke="#222" stroke-width="1.0"/>
<line x1="53.5" y1="232.5" x2="53.5" y2="328" stroke="#231f20" stroke-width="1.1"/>
<line x1="53" y1="327.5" x2="236.5" y2="327.5" stroke="#231f20" stroke-width="1.1"/>
<line x1="50.5" y1="327.5" x2="53.5" y2="327.5" stroke="#231f20" stroke-width="1"/>
<text x="47.2" y="330.4" font-size="8.2" text-anchor="end" fill="#231f20">0</text>
<line x1="50.5" y1="304.5" x2="53.5" y2="304.5" stroke="#231f20" stroke-width="1"/>
<text x="47.2" y="307.15" font-size="8.2" text-anchor="end" fill="#231f20">25</text>
<line x1="50.5" y1="281.5" x2="53.5" y2="281.5" stroke="#231f20" stroke-width="1"/>
<text x="47.2" y="283.9" font-size="8.2" text-anchor="end" fill="#231f20">50</text>
<line x1="50.5" y1="257.5" x2="53.5" y2="257.5" stroke="#231f20" stroke-width="1"/>
<text x="47.2" y="260.65" font-size="8.2" text-anchor="end" fill="#231f20">75</text>
<line x1="50.5" y1="234.5" x2="53.5" y2="234.5" stroke="#231f20" stroke-width="1"/>
<text x="47.2" y="237.4" font-size="8.2" text-anchor="end" fill="#231f20">100</text>
<line x1="76.5" y1="327.5" x2="76.5" y2="330.5" stroke="#231f20" stroke-width="1"/>
<line x1="122.5" y1="327.5" x2="122.5" y2="330.5" stroke="#231f20" stroke-width="1"/>
<line x1="167.5" y1="327.5" x2="167.5" y2="330.5" stroke="#231f20" stroke-width="1"/>
<line x1="213.5" y1="327.5" x2="213.5" y2="330.5" stroke="#231f20" stroke-width="1"/>
<text x="28.3" y="280" font-size="9.9" text-anchor="middle" fill="#231f20" textLength="31.7" lengthAdjust="spacingAndGlyphs" transform="rotate(-90 28.3 280)">% of CD8</text>
<circle cx="176.2" cy="235.2" r="2" fill="#1f3d84" stroke="none" stroke-width="1"/>
<text x="181.5" y="238" font-size="8.5" text-anchor="start" fill="#231f20" textLength="15" lengthAdjust="spacingAndGlyphs">LCH</text>
<rect x="174.2" y="243.5" width="4" height="4" fill="#b5123a"/>
<text x="181.5" y="248.6" font-size="8.5" text-anchor="start" fill="#231f20" textLength="36" lengthAdjust="spacingAndGlyphs">Ctrl Tissue</text>
<line x1="61.6" y1="272.5" x2="80.5" y2="272.5" stroke="#2a2a2a" stroke-width="1.0"/>
<line x1="61.5" y1="269.4" x2="61.5" y2="275.4" stroke="#2a2a2a" stroke-width="1.0"/>
<line x1="80.5" y1="269.4" x2="80.5" y2="275.4" stroke="#2a2a2a" stroke-width="1.0"/>
<circle cx="67.45" cy="265.6" r="1.05" fill="#1c1c1c" stroke="none" stroke-width="1"/>
<circle cx="71.05" cy="265.6" r="1.05" fill="#1c1c1c" stroke="none" stroke-width="1"/>
<circle cx="74.65" cy="265.6" r="1.05" fill="#1c1c1c" stroke="none" stroke-width="1"/>
<line x1="105.1" y1="297.5" x2="124.5" y2="297.5" stroke="#2a2a2a" stroke-width="1.0"/>
<line x1="105.5" y1="294.4" x2="105.5" y2="300.4" stroke="#2a2a2a" stroke-width="1.0"/>
<line x1="124.5" y1="294.4" x2="124.5" y2="300.4" stroke="#2a2a2a" stroke-width="1.0"/>
<text x="114.8" y="292.3" font-size="7.5" text-anchor="middle" fill="#333" textLength="7.4" lengthAdjust="spacingAndGlyphs">ns</text>
<line x1="149.2" y1="298.5" x2="168.8" y2="298.5" stroke="#2a2a2a" stroke-width="1.0"/>
<line x1="149.5" y1="295.1" x2="149.5" y2="301.1" stroke="#2a2a2a" stroke-width="1.0"/>
<line x1="168.5" y1="295.1" x2="168.5" y2="301.1" stroke="#2a2a2a" stroke-width="1.0"/>
<text x="159" y="292.8" font-size="7.5" text-anchor="middle" fill="#333" textLength="7.4" lengthAdjust="spacingAndGlyphs">ns</text>
<line x1="195.4" y1="288.5" x2="214.5" y2="288.5" stroke="#2a2a2a" stroke-width="1.0"/>
<line x1="195.5" y1="285.6" x2="195.5" y2="291.6" stroke="#2a2a2a" stroke-width="1.0"/>
<line x1="214.5" y1="285.6" x2="214.5" y2="291.6" stroke="#2a2a2a" stroke-width="1.0"/>
<circle cx="203.15" cy="281.1" r="1.05" fill="#1c1c1c" stroke="none" stroke-width="1"/>
<circle cx="206.75" cy="281.1" r="1.05" fill="#1c1c1c" stroke="none" stroke-width="1"/>
<circle cx="64.4" cy="292.9" r="1.7" fill="#1f3d84" stroke="none" stroke-width="1"/>
<circle cx="70.2" cy="295.8" r="1.7" fill="#1f3d84" stroke="none" stroke-width="1"/>
<circle cx="63.1" cy="300.6" r="1.7" fill="#1f3d84" stroke="none" stroke-width="1"/>
<circle cx="70.8" cy="301.5" r="1.7" fill="#1f3d84" stroke="none" stroke-width="1"/>
<circle cx="64.4" cy="303.8" r="1.7" fill="#1f3d84" stroke="none" stroke-width="1"/>
<circle cx="67.7" cy="308.3" r="1.7" fill="#1f3d84" stroke="none" stroke-width="1"/>
<circle cx="113.5" cy="316.9" r="1.7" fill="#1f3d84" stroke="none" stroke-width="1"/>
<circle cx="115.4" cy="318.8" r="1.7" fill="#1f3d84" stroke="none" stroke-width="1"/>
<circle cx="111.5" cy="320.8" r="1.7" fill="#1f3d84" stroke="none" stroke-width="1"/>
<circle cx="116.3" cy="320.8" r="1.7" fill="#1f3d84" stroke="none" stroke-width="1"/>
<circle cx="110.6" cy="322.7" r="1.7" fill="#1f3d84" stroke="none" stroke-width="1"/>
<circle cx="112.5" cy="324.6" r="1.7" fill="#1f3d84" stroke="none" stroke-width="1"/>
<circle cx="114.5" cy="322" r="1.7" fill="#1f3d84" stroke="none" stroke-width="1"/>
<circle cx="159.2" cy="318.8" r="1.7" fill="#1f3d84" stroke="none" stroke-width="1"/>
<circle cx="160.8" cy="320.4" r="1.7" fill="#1f3d84" stroke="none" stroke-width="1"/>
<circle cx="163" cy="320.8" r="1.7" fill="#1f3d84" stroke="none" stroke-width="1"/>
<circle cx="157.7" cy="322.3" r="1.7" fill="#1f3d84" stroke="none" stroke-width="1"/>
<circle cx="156.3" cy="324.2" r="1.7" fill="#1f3d84" stroke="none" stroke-width="1"/>
<circle cx="158.8" cy="325.6" r="1.7" fill="#1f3d84" stroke="none" stroke-width="1"/>
<circle cx="201.9" cy="309.2" r="1.7" fill="#1f3d84" stroke="none" stroke-width="1"/>
<circle cx="204.4" cy="310.8" r="1.7" fill="#1f3d84" stroke="none" stroke-width="1"/>
<circle cx="207.7" cy="309.2" r="1.7" fill="#1f3d84" stroke="none" stroke-width="1"/>
<circle cx="208.8" cy="311.5" r="1.7" fill="#1f3d84" stroke="none" stroke-width="1"/>
<circle cx="206.3" cy="313" r="1.7" fill="#1f3d84" stroke="none" stroke-width="1"/>
<circle cx="202.5" cy="317.3" r="1.7" fill="#1f3d84" stroke="none" stroke-width="1"/>
<line x1="62.5" y1="301.5" x2="73" y2="301.5" stroke="#111" stroke-width="1.1"/>
<line x1="67.5" y1="298.3" x2="67.5" y2="303.8" stroke="#111" stroke-width="1"/>
<line x1="65.25" y1="298.5" x2="70.25" y2="298.5" stroke="#111" stroke-width="1"/>
<line x1="65.25" y1="303.5" x2="70.25" y2="303.5" stroke="#111" stroke-width="1"/>
<line x1="109.5" y1="321.5" x2="118.5" y2="321.5" stroke="#111" stroke-width="1.1"/>
<line x1="154.4" y1="322.5" x2="164.6" y2="322.5" stroke="#111" stroke-width="1.1"/>
<line x1="199.6" y1="312.5" x2="210.8" y2="312.5" stroke="#111" stroke-width="1.1"/>
<rect x="79.1" y="321.7" width="3.4" height="3.4" fill="#b5123a"/>
<rect x="82" y="323.7" width="3.4" height="3.4" fill="#b5123a"/>
<rect x="84.8" y="322.7" width="3.4" height="3.4" fill="#b5123a"/>
<rect x="86.8" y="322.5" width="3.4" height="3.4" fill="#b5123a"/>
<rect x="83.9" y="324.1" width="3.4" height="3.4" fill="#b5123a"/>
<rect x="94.8" y="320" width="3.4" height="3.4" fill="#b5123a"/>
<rect x="125.8" y="324.5" width="10.0" height="2.8" rx="1.2" fill="#b5123a"/>
<rect x="125.6" y="323.6" width="3.0" height="3" rx="0.8" fill="#b5123a"/>
<rect x="171.5" y="324.5" width="10.0" height="2.8" rx="1.2" fill="#b5123a"/>
<rect x="171.3" y="323.6" width="3.0" height="3" rx="0.8" fill="#b5123a"/>
<rect x="217.5" y="324.5" width="10.0" height="2.8" rx="1.2" fill="#b5123a"/>
<rect x="217.3" y="323.6" width="3.0" height="3" rx="0.8" fill="#b5123a"/>
<text x="78.6" y="337" font-size="8.6" text-anchor="end" fill="#231f20" transform="translate(78.6 337) rotate(-45) scale(0.95 1) translate(-78.6 -337)">PD-1<tspan font-size="6" dy="-3.2">+</tspan><tspan dy="3.2">TIM-3</tspan><tspan font-size="6" dy="-3.2">+</tspan></text>
<text x="124.4" y="337" font-size="8.6" text-anchor="end" fill="#231f20" transform="translate(124.4 337) rotate(-45) scale(0.95 1) translate(-124.4 -337)">PD-1<tspan font-size="6" dy="-3.2">+</tspan><tspan dy="3.2">LAG-3</tspan><tspan font-size="6" dy="-3.2">+</tspan></text>
<text x="170.2" y="337" font-size="8.6" text-anchor="end" fill="#231f20" transform="translate(170.2 337) rotate(-45) scale(0.95 1) translate(-170.2 -337)">TIM-3<tspan font-size="6" dy="-3.2">+</tspan><tspan dy="3.2">LAG-3</tspan><tspan font-size="6" dy="-3.2">+</tspan></text>
<text x="215.4" y="337" font-size="8.6" text-anchor="end" fill="#231f20" transform="translate(215.4 337) rotate(-45) scale(0.95 1) translate(-215.4 -337)">PD-1<tspan font-size="6" dy="-3.2">+</tspan><tspan dy="3.2">TIM-3</tspan><tspan font-size="6" dy="-3.2">+</tspan><tspan dy="3.2">LAG-3</tspan><tspan font-size="6" dy="-3.2">+</tspan></text>
<line x1="310.5" y1="232" x2="310.5" y2="349.3" stroke="#231f20" stroke-width="1.1"/>
<line x1="310" y1="348.5" x2="481.3" y2="348.5" stroke="#231f20" stroke-width="1.1"/>
<line x1="307.5" y1="348.5" x2="310.5" y2="348.5" stroke="#231f20" stroke-width="1"/>
<text x="304" y="351.7" font-size="8.2" text-anchor="end" fill="#231f20">0</text>
<line x1="307.5" y1="325.5" x2="310.5" y2="325.5" stroke="#231f20" stroke-width="1"/>
<text x="304" y="328.84" font-size="8.2" text-anchor="end" fill="#231f20">20</text>
<line x1="307.5" y1="303.5" x2="310.5" y2="303.5" stroke="#231f20" stroke-width="1"/>
<text x="304" y="305.98" font-size="8.2" text-anchor="end" fill="#231f20">40</text>
<line x1="307.5" y1="280.5" x2="310.5" y2="280.5" stroke="#231f20" stroke-width="1"/>
<text x="304" y="283.12" font-size="8.2" text-anchor="end" fill="#231f20">60</text>
<line x1="307.5" y1="257.5" x2="310.5" y2="257.5" stroke="#231f20" stroke-width="1"/>
<text x="304" y="260.26" font-size="8.2" text-anchor="end" fill="#231f20">80</text>
<line x1="307.5" y1="234.5" x2="310.5" y2="234.5" stroke="#231f20" stroke-width="1"/>
<text x="304" y="237.4" font-size="8.2" text-anchor="end" fill="#231f20">100</text>
<line x1="319.5" y1="348.8" x2="319.5" y2="351.8" stroke="#231f20" stroke-width="1"/>
<line x1="341.5" y1="348.8" x2="341.5" y2="351.8" stroke="#231f20" stroke-width="1"/>
<line x1="363.5" y1="348.8" x2="363.5" y2="351.8" stroke="#231f20" stroke-width="1"/>
<line x1="384.5" y1="348.8" x2="384.5" y2="351.8" stroke="#231f20" stroke-width="1"/>
<line x1="406.5" y1="348.8" x2="406.5" y2="351.8" stroke="#231f20" stroke-width="1"/>
<line x1="428.5" y1="348.8" x2="428.5" y2="351.8" stroke="#231f20" stroke-width="1"/>
<line x1="449.5" y1="348.8" x2="449.5" y2="351.8" stroke="#231f20" stroke-width="1"/>
<line x1="471.5" y1="348.8" x2="471.5" y2="351.8" stroke="#231f20" stroke-width="1"/>
<text x="285" y="290.9" font-size="9.0" text-anchor="middle" fill="#231f20" textLength="46.4" lengthAdjust="spacingAndGlyphs" transform="rotate(-90 285 290.9)">% expression</text>
<polygon points="344.6,236.67 350.4,236.67 347.5,231.65" fill="none" stroke="#1f3f7e" stroke-width="1.0"/>
<text x="353.2" y="238" font-size="8.5" text-anchor="start" fill="#231f20" textLength="28" lengthAdjust="spacingAndGlyphs">Perforin</text>
<circle cx="399.3" cy="235" r="2.95" fill="none" stroke="#b3143f" stroke-width="1.0"/>
<text x="405" y="238" font-size="8.5" text-anchor="start" fill="#231f20" textLength="42" lengthAdjust="spacingAndGlyphs">Granzyme-B</text>
<polygon points="313.1,279.32 317.9,279.32 315.5,275.16" fill="none" stroke="#1f3f7e" stroke-width="1.0"/>
<polygon points="313.1,277.03 317.9,277.03 315.5,272.88" fill="none" stroke="#1f3f7e" stroke-width="1.0"/>
<polygon points="313.1,274.75 317.9,274.75 315.5,270.59" fill="none" stroke="#1f3f7e" stroke-width="1.0"/>
<polygon points="313.1,273.6 317.9,273.6 315.5,269.45" fill="none" stroke="#1f3f7e" stroke-width="1.0"/>
<polygon points="313.1,272.46 317.9,272.46 315.5,268.3" fill="none" stroke="#1f3f7e" stroke-width="1.0"/>
<polygon points="313.1,270.18 317.9,270.18 315.5,266.02" fill="none" stroke="#1f3f7e" stroke-width="1.0"/>
<circle cx="323.7" cy="266.5" r="2.3" fill="none" stroke="#b3143f" stroke-width="1.0"/>
<circle cx="323.7" cy="264.22" r="2.3" fill="none" stroke="#b3143f" stroke-width="1.0"/>
<circle cx="323.7" cy="263.08" r="2.3" fill="none" stroke="#b3143f" stroke-width="1.0"/>
<circle cx="323.7" cy="260.79" r="2.3" fill="none" stroke="#b3143f" stroke-width="1.0"/>
<circle cx="323.7" cy="259.65" r="2.3" fill="none" stroke="#b3143f" stroke-width="1.0"/>
<line x1="313.3" y1="273.5" x2="317.7" y2="273.5" stroke="#1f3f7e" stroke-width="1.2"/>
<line x1="321.5" y1="262.5" x2="325.9" y2="262.5" stroke="#b3143f" stroke-width="1.2"/>
<polygon points="334.8,330.75 339.6,330.75 337.2,326.6" fill="none" stroke="#1f3f7e" stroke-width="1.0"/>
<polygon points="334.8,327.33 339.6,327.33 337.2,323.17" fill="none" stroke="#1f3f7e" stroke-width="1.0"/>
<polygon points="334.8,325.04 339.6,325.04 337.2,320.88" fill="none" stroke="#1f3f7e" stroke-width="1.0"/>
<polygon points="334.8,322.75 339.6,322.75 337.2,318.6" fill="none" stroke="#1f3f7e" stroke-width="1.0"/>
<polygon points="334.8,320.47 339.6,320.47 337.2,316.31" fill="none" stroke="#1f3f7e" stroke-width="1.0"/>
<polygon points="334.8,319.32 339.6,319.32 337.2,315.17" fill="none" stroke="#1f3f7e" stroke-width="1.0"/>
<circle cx="345.4" cy="325.94" r="2.3" fill="none" stroke="#b3143f" stroke-width="1.0"/>
<circle cx="345.4" cy="322.51" r="2.3" fill="none" stroke="#b3143f" stroke-width="1.0"/>
<circle cx="345.4" cy="320.23" r="2.3" fill="none" stroke="#b3143f" stroke-width="1.0"/>
<circle cx="345.4" cy="317.94" r="2.3" fill="none" stroke="#b3143f" stroke-width="1.0"/>
<circle cx="345.4" cy="316.8" r="2.3" fill="none" stroke="#b3143f" stroke-width="1.0"/>
<circle cx="345.4" cy="314.51" r="2.3" fill="none" stroke="#b3143f" stroke-width="1.0"/>
<line x1="335" y1="322.5" x2="339.4" y2="322.5" stroke="#1f3f7e" stroke-width="1.2"/>
<line x1="343.2" y1="319.5" x2="347.6" y2="319.5" stroke="#b3143f" stroke-width="1.2"/>
<polygon points="356.5,302.18 361.3,302.18 358.9,298.02" fill="none" stroke="#1f3f7e" stroke-width="1.0"/>
<polygon points="356.5,299.89 361.3,299.89 358.9,295.74" fill="none" stroke="#1f3f7e" stroke-width="1.0"/>
<polygon points="356.5,297.61 361.3,297.61 358.9,293.45" fill="none" stroke="#1f3f7e" stroke-width="1.0"/>
<polygon points="356.5,296.46 361.3,296.46 358.9,292.31" fill="none" stroke="#1f3f7e" stroke-width="1.0"/>
<polygon points="356.5,295.32 361.3,295.32 358.9,291.16" fill="none" stroke="#1f3f7e" stroke-width="1.0"/>
<polygon points="356.5,293.04 361.3,293.04 358.9,288.88" fill="none" stroke="#1f3f7e" stroke-width="1.0"/>
<circle cx="367.1" cy="314.51" r="2.3" fill="none" stroke="#b3143f" stroke-width="1.0"/>
<circle cx="367.1" cy="312.22" r="2.3" fill="none" stroke="#b3143f" stroke-width="1.0"/>
<circle cx="367.1" cy="309.94" r="2.3" fill="none" stroke="#b3143f" stroke-width="1.0"/>
<line x1="356.7" y1="296.5" x2="361.1" y2="296.5" stroke="#1f3f7e" stroke-width="1.2"/>
<line x1="364.9" y1="312.5" x2="369.3" y2="312.5" stroke="#b3143f" stroke-width="1.2"/>
<polygon points="378.2,287.32 383,287.32 380.6,283.16" fill="none" stroke="#1f3f7e" stroke-width="1.0"/>
<polygon points="378.2,286.18 383,286.18 380.6,282.02" fill="none" stroke="#1f3f7e" stroke-width="1.0"/>
<polygon points="378.2,285.03 383,285.03 380.6,280.88" fill="none" stroke="#1f3f7e" stroke-width="1.0"/>
<polygon points="378.2,283.89 383,283.89 380.6,279.73" fill="none" stroke="#1f3f7e" stroke-width="1.0"/>
<circle cx="388.8" cy="293.94" r="2.3" fill="none" stroke="#b3143f" stroke-width="1.0"/>
<circle cx="388.8" cy="291.65" r="2.3" fill="none" stroke="#b3143f" stroke-width="1.0"/>
<circle cx="388.8" cy="289.36" r="2.3" fill="none" stroke="#b3143f" stroke-width="1.0"/>
<circle cx="388.8" cy="288.22" r="2.3" fill="none" stroke="#b3143f" stroke-width="1.0"/>
<circle cx="388.8" cy="287.08" r="2.3" fill="none" stroke="#b3143f" stroke-width="1.0"/>
<line x1="378.4" y1="284.5" x2="382.8" y2="284.5" stroke="#1f3f7e" stroke-width="1.2"/>
<line x1="386.6" y1="290.5" x2="391" y2="290.5" stroke="#b3143f" stroke-width="1.2"/>
<polygon points="399.9,295.32 404.7,295.32 402.3,291.16" fill="none" stroke="#1f3f7e" stroke-width="1.0"/>
<polygon points="399.9,294.18 404.7,294.18 402.3,290.02" fill="none" stroke="#1f3f7e" stroke-width="1.0"/>
<polygon points="399.9,293.04 404.7,293.04 402.3,288.88" fill="none" stroke="#1f3f7e" stroke-width="1.0"/>
<polygon points="399.9,291.89 404.7,291.89 402.3,287.74" fill="none" stroke="#1f3f7e" stroke-width="1.0"/>
<circle cx="410.5" cy="305.37" r="2.3" fill="none" stroke="#b3143f" stroke-width="1.0"/>
<circle cx="410.5" cy="303.08" r="2.3" fill="none" stroke="#b3143f" stroke-width="1.0"/>
<circle cx="410.5" cy="300.79" r="2.3" fill="none" stroke="#b3143f" stroke-width="1.0"/>
<circle cx="410.5" cy="298.51" r="2.3" fill="none" stroke="#b3143f" stroke-width="1.0"/>
<circle cx="410.5" cy="296.22" r="2.3" fill="none" stroke="#b3143f" stroke-width="1.0"/>
<line x1="400.1" y1="292.5" x2="404.5" y2="292.5" stroke="#1f3f7e" stroke-width="1.2"/>
<line x1="408.3" y1="300.5" x2="412.7" y2="300.5" stroke="#b3143f" stroke-width="1.2"/>
<polygon points="421.6,330.75 426.4,330.75 424,326.6" fill="none" stroke="#1f3f7e" stroke-width="1.0"/>
<polygon points="421.6,329.61 426.4,329.61 424,325.45" fill="none" stroke="#1f3f7e" stroke-width="1.0"/>
<polygon points="421.6,327.33 426.4,327.33 424,323.17" fill="none" stroke="#1f3f7e" stroke-width="1.0"/>
<polygon points="421.6,326.18 426.4,326.18 424,322.03" fill="none" stroke="#1f3f7e" stroke-width="1.0"/>
<polygon points="421.6,325.04 426.4,325.04 424,320.88" fill="none" stroke="#1f3f7e" stroke-width="1.0"/>
<circle cx="432.2" cy="335.08" r="2.3" fill="none" stroke="#b3143f" stroke-width="1.0"/>
<circle cx="432.2" cy="332.8" r="2.3" fill="none" stroke="#b3143f" stroke-width="1.0"/>
<circle cx="432.2" cy="331.66" r="2.3" fill="none" stroke="#b3143f" stroke-width="1.0"/>
<circle cx="432.2" cy="330.51" r="2.3" fill="none" stroke="#b3143f" stroke-width="1.0"/>
<circle cx="432.2" cy="328.23" r="2.3" fill="none" stroke="#b3143f" stroke-width="1.0"/>
<line x1="421.8" y1="326.5" x2="426.2" y2="326.5" stroke="#1f3f7e" stroke-width="1.2"/>
<line x1="430" y1="331.5" x2="434.4" y2="331.5" stroke="#b3143f" stroke-width="1.2"/>
<polygon points="443.3,295.32 448.1,295.32 445.7,291.16" fill="none" stroke="#1f3f7e" stroke-width="1.0"/>
<polygon points="443.3,294.18 448.1,294.18 445.7,290.02" fill="none" stroke="#1f3f7e" stroke-width="1.0"/>
<polygon points="443.3,293.04 448.1,293.04 445.7,288.88" fill="none" stroke="#1f3f7e" stroke-width="1.0"/>
<circle cx="453.9" cy="313.37" r="2.3" fill="none" stroke="#b3143f" stroke-width="1.0"/>
<circle cx="453.9" cy="311.08" r="2.3" fill="none" stroke="#b3143f" stroke-width="1.0"/>
<circle cx="453.9" cy="308.8" r="2.3" fill="none" stroke="#b3143f" stroke-width="1.0"/>
<circle cx="453.9" cy="307.65" r="2.3" fill="none" stroke="#b3143f" stroke-width="1.0"/>
<line x1="443.5" y1="292.5" x2="447.9" y2="292.5" stroke="#1f3f7e" stroke-width="1.2"/>
<line x1="451.7" y1="310.5" x2="456.1" y2="310.5" stroke="#b3143f" stroke-width="1.2"/>
<polygon points="465,330.75 469.8,330.75 467.4,326.6" fill="none" stroke="#1f3f7e" stroke-width="1.0"/>
<polygon points="465,329.61 469.8,329.61 467.4,325.45" fill="none" stroke="#1f3f7e" stroke-width="1.0"/>
<polygon points="465,327.33 469.8,327.33 467.4,323.17" fill="none" stroke="#1f3f7e" stroke-width="1.0"/>
<polygon points="465,326.18 469.8,326.18 467.4,322.03" fill="none" stroke="#1f3f7e" stroke-width="1.0"/>
<polygon points="465,325.04 469.8,325.04 467.4,320.88" fill="none" stroke="#1f3f7e" stroke-width="1.0"/>
<circle cx="475.6" cy="330.51" r="2.3" fill="none" stroke="#b3143f" stroke-width="1.0"/>
<circle cx="475.6" cy="328.23" r="2.3" fill="none" stroke="#b3143f" stroke-width="1.0"/>
<circle cx="475.6" cy="327.08" r="2.3" fill="none" stroke="#b3143f" stroke-width="1.0"/>
<circle cx="475.6" cy="325.94" r="2.3" fill="none" stroke="#b3143f" stroke-width="1.0"/>
<circle cx="475.6" cy="323.65" r="2.3" fill="none" stroke="#b3143f" stroke-width="1.0"/>
<line x1="465.2" y1="326.5" x2="469.6" y2="326.5" stroke="#1f3f7e" stroke-width="1.2"/>
<line x1="473.4" y1="327.5" x2="477.8" y2="327.5" stroke="#b3143f" stroke-width="1.2"/>
<circle cx="337.2" cy="295" r="1.05" fill="#1c1c1c" stroke="none" stroke-width="1"/>
<circle cx="337.2" cy="298.75" r="1.05" fill="#1c1c1c" stroke="none" stroke-width="1"/>
<circle cx="337.2" cy="302.5" r="1.05" fill="#1c1c1c" stroke="none" stroke-width="1"/>
<circle cx="337.2" cy="306.25" r="1.05" fill="#1c1c1c" stroke="none" stroke-width="1"/>
<circle cx="345.4" cy="295" r="1.05" fill="#1c1c1c" stroke="none" stroke-width="1"/>
<circle cx="345.4" cy="298.75" r="1.05" fill="#1c1c1c" stroke="none" stroke-width="1"/>
<circle cx="345.4" cy="302.5" r="1.05" fill="#1c1c1c" stroke="none" stroke-width="1"/>
<circle cx="345.4" cy="306.25" r="1.05" fill="#1c1c1c" stroke="none" stroke-width="1"/>
<circle cx="358.9" cy="277" r="1.05" fill="#1c1c1c" stroke="none" stroke-width="1"/>
<circle cx="358.9" cy="280.75" r="1.05" fill="#1c1c1c" stroke="none" stroke-width="1"/>
<circle cx="358.9" cy="284.5" r="1.05" fill="#1c1c1c" stroke="none" stroke-width="1"/>
<circle cx="367.1" cy="273.5" r="1.05" fill="#1c1c1c" stroke="none" stroke-width="1"/>
<circle cx="367.1" cy="277.25" r="1.05" fill="#1c1c1c" stroke="none" stroke-width="1"/>
<circle cx="367.1" cy="281" r="1.05" fill="#1c1c1c" stroke="none" stroke-width="1"/>
<circle cx="367.1" cy="284.75" r="1.05" fill="#1c1c1c" stroke="none" stroke-width="1"/>
<circle cx="380.6" cy="273.5" r="1.05" fill="#1c1c1c" stroke="none" stroke-width="1"/>
<circle cx="388.8" cy="270" r="1.05" fill="#1c1c1c" stroke="none" stroke-width="1"/>
<circle cx="388.8" cy="273.75" r="1.05" fill="#1c1c1c" stroke="none" stroke-width="1"/>
<circle cx="402.3" cy="281.5" r="1.05" fill="#1c1c1c" stroke="none" stroke-width="1"/>
<circle cx="410.5" cy="277" r="1.05" fill="#1c1c1c" stroke="none" stroke-width="1"/>
<circle cx="410.5" cy="280.75" r="1.05" fill="#1c1c1c" stroke="none" stroke-width="1"/>
<circle cx="424" cy="304.6" r="1.05" fill="#1c1c1c" stroke="none" stroke-width="1"/>
<circle cx="424" cy="308.35" r="1.05" fill="#1c1c1c" stroke="none" stroke-width="1"/>
<circle cx="424" cy="312.1" r="1.05" fill="#1c1c1c" stroke="none" stroke-width="1"/>
<circle cx="424" cy="315.85" r="1.05" fill="#1c1c1c" stroke="none" stroke-width="1"/>
<circle cx="432.2" cy="304.6" r="1.05" fill="#1c1c1c" stroke="none" stroke-width="1"/>
<circle cx="432.2" cy="308.35" r="1.05" fill="#1c1c1c" stroke="none" stroke-width="1"/>
<circle cx="432.2" cy="312.1" r="1.05" fill="#1c1c1c" stroke="none" stroke-width="1"/>
<circle cx="432.2" cy="315.85" r="1.05" fill="#1c1c1c" stroke="none" stroke-width="1"/>
<circle cx="445.7" cy="282" r="1.05" fill="#1c1c1c" stroke="none" stroke-width="1"/>
<circle cx="453.9" cy="272.5" r="1.05" fill="#1c1c1c" stroke="none" stroke-width="1"/>
<circle cx="453.9" cy="276.25" r="1.05" fill="#1c1c1c" stroke="none" stroke-width="1"/>
<circle cx="453.9" cy="280" r="1.05" fill="#1c1c1c" stroke="none" stroke-width="1"/>
<circle cx="453.9" cy="283.75" r="1.05" fill="#1c1c1c" stroke="none" stroke-width="1"/>
<circle cx="467.4" cy="304.6" r="1.05" fill="#1c1c1c" stroke="none" stroke-width="1"/>
<circle cx="467.4" cy="308.35" r="1.05" fill="#1c1c1c" stroke="none" stroke-width="1"/>
<circle cx="467.4" cy="312.1" r="1.05" fill="#1c1c1c" stroke="none" stroke-width="1"/>
<circle cx="467.4" cy="315.85" r="1.05" fill="#1c1c1c" stroke="none" stroke-width="1"/>
<circle cx="475.6" cy="304.6" r="1.05" fill="#1c1c1c" stroke="none" stroke-width="1"/>
<circle cx="475.6" cy="308.35" r="1.05" fill="#1c1c1c" stroke="none" stroke-width="1"/>
<circle cx="475.6" cy="312.1" r="1.05" fill="#1c1c1c" stroke="none" stroke-width="1"/>
<circle cx="475.6" cy="315.85" r="1.05" fill="#1c1c1c" stroke="none" stroke-width="1"/>
<text x="321.9" y="359" font-size="8.7" text-anchor="end" fill="#231f20" transform="translate(321.9 359) rotate(-45) scale(0.945 1) translate(-321.9 -359)">PD-1<tspan font-size="6" dy="-3.2">-</tspan><tspan dy="3.2">TIM-3</tspan><tspan font-size="6" dy="-3.2">-</tspan><tspan dy="3.2">LAG-3</tspan><tspan font-size="6" dy="-3.2">-</tspan></text>
<text x="343.6" y="359" font-size="8.7" text-anchor="end" fill="#231f20" transform="translate(343.6 359) rotate(-45) scale(0.945 1) translate(-343.6 -359)">PD-1<tspan font-size="6" dy="-3.2">+</tspan></text>
<text x="365.3" y="359" font-size="8.7" text-anchor="end" fill="#231f20" transform="translate(365.3 359) rotate(-45) scale(0.945 1) translate(-365.3 -359)">TIM-3<tspan font-size="6" dy="-3.2">+</tspan></text>
<text x="387" y="359" font-size="8.7" text-anchor="end" fill="#231f20" transform="translate(387 359) rotate(-45) scale(0.945 1) translate(-387 -359)">LAG-3<tspan font-size="6" dy="-3.2">+</tspan></text>
<text x="408.7" y="359" font-size="8.7" text-anchor="end" fill="#231f20" transform="translate(408.7 359) rotate(-45) scale(0.945 1) translate(-408.7 -359)">TIM-3<tspan font-size="6" dy="-3.2">+</tspan><tspan dy="3.2">LAG-3</tspan><tspan font-size="6" dy="-3.2">+</tspan></text>
<text x="430.4" y="359" font-size="8.7" text-anchor="end" fill="#231f20" transform="translate(430.4 359) rotate(-45) scale(0.945 1) translate(-430.4 -359)">PD-1<tspan font-size="6" dy="-3.2">+</tspan><tspan dy="3.2">TIM-3</tspan><tspan font-size="6" dy="-3.2">+</tspan></text>
<text x="452.1" y="359" font-size="8.7" text-anchor="end" fill="#231f20" transform="translate(452.1 359) rotate(-45) scale(0.945 1) translate(-452.1 -359)">PD-1<tspan font-size="6" dy="-3.2">+</tspan><tspan dy="3.2">LAG3</tspan><tspan font-size="6" dy="-3.2">+</tspan></text>
<text x="473.8" y="359" font-size="8.7" text-anchor="end" fill="#231f20" transform="translate(473.8 359) rotate(-45) scale(0.945 1) translate(-473.8 -359)">PD-1<tspan font-size="6" dy="-3.2">+</tspan><tspan dy="3.2">TIM-3</tspan><tspan font-size="6" dy="-3.2">+</tspan><tspan dy="3.2">LAG3</tspan><tspan font-size="6" dy="-3.2">+</tspan></text>
<text x="59.3" y="441.3" font-size="10.4" text-anchor="start" fill="#231f20" textLength="62" lengthAdjust="spacingAndGlyphs">CD207+ Cells</text>
<line x1="83" y1="462.5" x2="97.5" y2="519.5" stroke="#9a9a9a" stroke-width="0.8"/>
<line x1="97.5" y1="519.5" x2="110.75" y2="538.8" stroke="#9a9a9a" stroke-width="0.8"/>
<line x1="97.5" y1="519.5" x2="72" y2="553.8" stroke="#9a9a9a" stroke-width="0.8"/>
<line x1="72" y1="553.8" x2="23.3" y2="605.3" stroke="#9a9a9a" stroke-width="0.8"/>
<line x1="110.75" y1="538.8" x2="103.2" y2="594.4" stroke="#9a9a9a" stroke-width="0.8"/>
<line x1="110.75" y1="538.8" x2="126" y2="531.1" stroke="#9a9a9a" stroke-width="0.8"/>
<line x1="126" y1="531.1" x2="138.6" y2="523.4" stroke="#9a9a9a" stroke-width="0.8"/>
<line x1="138.6" y1="523.4" x2="151" y2="511.1" stroke="#9a9a9a" stroke-width="0.8"/>
<line x1="151" y1="511.1" x2="150.5" y2="475.7" stroke="#9a9a9a" stroke-width="0.8"/>
<line x1="150.5" y1="475.7" x2="142.9" y2="443.9" stroke="#9a9a9a" stroke-width="0.8"/>
<line x1="150.5" y1="475.7" x2="155.9" y2="434.3" stroke="#9a9a9a" stroke-width="0.8"/>
<line x1="151" y1="511.1" x2="160.6" y2="531.5" stroke="#9a9a9a" stroke-width="0.8"/>
<line x1="160.6" y1="531.5" x2="168.6" y2="549.3" stroke="#9a9a9a" stroke-width="0.8"/>
<line x1="168.6" y1="549.3" x2="176.1" y2="542.4" stroke="#9a9a9a" stroke-width="0.8"/>
<line x1="176.1" y1="542.4" x2="181.8" y2="538.6" stroke="#9a9a9a" stroke-width="0.8"/>
<line x1="181.8" y1="538.6" x2="189.5" y2="535" stroke="#9a9a9a" stroke-width="0.8"/>
<line x1="189.5" y1="535" x2="197.2" y2="531.7" stroke="#9a9a9a" stroke-width="0.8"/>
<line x1="197.2" y1="531.7" x2="204.2" y2="529.1" stroke="#9a9a9a" stroke-width="0.8"/>
<line x1="204.2" y1="529.1" x2="213.7" y2="526" stroke="#9a9a9a" stroke-width="0.8"/>
<line x1="213.7" y1="526" x2="224.3" y2="522.7" stroke="#9a9a9a" stroke-width="0.8"/>
<line x1="224.3" y1="522.7" x2="241.5" y2="518.6" stroke="#9a9a9a" stroke-width="0.8"/>
<line x1="168.6" y1="549.3" x2="168.1" y2="574.1" stroke="#9a9a9a" stroke-width="0.8"/>
<line x1="168.5" y1="574.1" x2="168.5" y2="607.2" stroke="#9a9a9a" stroke-width="0.8"/>
<line x1="168.1" y1="607.2" x2="170.3" y2="653" stroke="#9a9a9a" stroke-width="0.8"/>
<circle cx="83" cy="462.5" r="3.6" fill="none" stroke="#333" stroke-width="0.9"/>
<circle cx="97.5" cy="519.5" r="6.6" fill="none" stroke="#333" stroke-width="0.9"/>
<circle cx="110.75" cy="538.8" r="8.5" fill="none" stroke="#333" stroke-width="0.9"/>
<circle cx="126" cy="531.1" r="7.7" fill="none" stroke="#333" stroke-width="0.9"/>
<circle cx="138.6" cy="523.4" r="7.1" fill="none" stroke="#333" stroke-width="0.9"/>
<circle cx="151" cy="511.1" r="5.8" fill="none" stroke="#333" stroke-width="0.9"/>
<circle cx="150.5" cy="475.7" r="4.2" fill="none" stroke="#333" stroke-width="0.9"/>
<circle cx="142.9" cy="443.9" r="6.6" fill="none" stroke="#333" stroke-width="0.9"/>
<circle cx="155.9" cy="434.3" r="4.4" fill="none" stroke="#333" stroke-width="0.9"/>
<circle cx="160.6" cy="531.5" r="5.2" fill="none" stroke="#333" stroke-width="0.9"/>
<circle cx="168.6" cy="549.3" r="5.5" fill="none" stroke="#333" stroke-width="0.9"/>
<circle cx="72" cy="553.8" r="6.8" fill="none" stroke="#333" stroke-width="0.9"/>
<circle cx="103.2" cy="594.4" r="5.4" fill="none" stroke="#333" stroke-width="0.9"/>
<circle cx="23.3" cy="605.3" r="3.5" fill="none" stroke="#333" stroke-width="0.9"/>
<circle cx="168.1" cy="574.1" r="6.6" fill="none" stroke="#333" stroke-width="0.9"/>
<circle cx="168.1" cy="607.2" r="6.6" fill="none" stroke="#333" stroke-width="0.9"/>
<circle cx="170.3" cy="653" r="6" fill="none" stroke="#333" stroke-width="0.9"/>
<circle cx="176.1" cy="542.4" r="4.9" fill="none" stroke="#333" stroke-width="0.9"/>
<circle cx="181.8" cy="538.6" r="4.6" fill="none" stroke="#333" stroke-width="0.9"/>
<circle cx="189.5" cy="535" r="4.4" fill="none" stroke="#333" stroke-width="0.9"/>
<circle cx="197.2" cy="531.7" r="3.9" fill="none" stroke="#333" stroke-width="0.9"/>
<circle cx="204.2" cy="529.1" r="3.8" fill="none" stroke="#333" stroke-width="0.9"/>
<circle cx="213.7" cy="526" r="3.3" fill="none" stroke="#333" stroke-width="0.9"/>
<circle cx="224.3" cy="522.7" r="2.6" fill="none" stroke="#333" stroke-width="0.7"/>
<circle cx="241.5" cy="518.6" r="2.1" fill="none" stroke="#333" stroke-width="0.7"/>
<path d="M79.8,462.5 A3.2,3.2 0 0 1 86.2,462.5 Z" fill="#0a0a8a"/>
<path d="M81.4,462.5 A1.6,1.6 0 0 0 84.6,462.5 Z" fill="#8a0a0a"/>
<path d="M95,519.5 A2.5,2.5 0 0 1 100,519.5 Z" fill="#0a0a8a"/>
<path d="M95.5,519.5 A2,2 0 0 0 99.5,519.5 Z" fill="#8a0a0a"/>
<path d="M107.95,538.8 A2.8,2.8 0 0 1 113.55,538.8 Z" fill="#0a0a8a"/>
<path d="M107.75,538.8 A3,3 0 0 0 113.75,538.8 Z" fill="#8a0a0a"/>
<path d="M124.6,531.1 A1.4,1.4 0 0 1 127.4,531.1 Z" fill="#0a0a8a"/>
<path d="M123.9,531.1 A2.1,2.1 0 0 0 128.1,531.1 Z" fill="#8a0a0a"/>
<path d="M137.8,523.4 A0.8,0.8 0 0 1 139.4,523.4 Z" fill="#0a0a8a"/>
<path d="M137.2,523.4 A1.4,1.4 0 0 0 140,523.4 Z" fill="#8a0a0a"/>
<path d="M149.9,511.1 A1.1,1.1 0 0 1 152.1,511.1 Z" fill="#0a0a8a"/>
<path d="M150.5,511.1 A0.5,0.5 0 0 0 151.5,511.1 Z" fill="#8a0a0a"/>
<path d="M149.2,475.7 A1.3,1.3 0 0 1 151.8,475.7 Z" fill="#0a0a8a"/>
<path d="M150,475.7 A0.5,0.5 0 0 0 151,475.7 Z" fill="#8a0a0a"/>
<path d="M140.9,443.9 A2,2 0 0 1 144.9,443.9 Z" fill="#0a0a8a"/>
<path d="M141.6,443.9 A1.3,1.3 0 0 0 144.2,443.9 Z" fill="#8a0a0a"/>
<path d="M154.2,434.3 A1.7,1.7 0 0 1 157.6,434.3 Z" fill="#0a0a8a"/>
<path d="M155.1,434.3 A0.8,0.8 0 0 0 156.7,434.3 Z" fill="#8a0a0a"/>
<path d="M160.1,531.5 A0.5,0.5 0 0 1 161.1,531.5 Z" fill="#0a0a8a"/>
<path d="M160.2,531.5 A0.4,0.4 0 0 0 161,531.5 Z" fill="#8a0a0a"/>
<path d="M168.2,549.3 A0.4,0.4 0 0 1 169,549.3 Z" fill="#0a0a8a"/>
<path d="M168.2,549.3 A0.4,0.4 0 0 0 169,549.3 Z" fill="#8a0a0a"/>
<path d="M68.6,553.8 A3.4,3.4 0 0 1 75.4,553.8 Z" fill="#0a0a8a"/>
<path d="M68.6,553.8 A3.4,3.4 0 0 0 75.4,553.8 Z" fill="#8a0a0a"/>
<path d="M102,594.4 A1.2,1.2 0 0 1 104.4,594.4 Z" fill="#0a0a8a"/>
<path d="M100.7,594.4 A2.5,2.5 0 0 0 105.7,594.4 Z" fill="#8a0a0a"/>
<path d="M20.1,605.3 A3.2,3.2 0 0 1 26.5,605.3 Z" fill="#0a0a8a"/>
<path d="M20.3,605.3 A3,3 0 0 0 26.3,605.3 Z" fill="#8a0a0a"/>
<path d="M167.8,574.1 A0.3,0.3 0 0 1 168.4,574.1 Z" fill="#0a0a8a"/>
<path d="M166.9,574.1 A1.2,1.2 0 0 0 169.3,574.1 Z" fill="#8a0a0a"/>
<path d="M167.8,607.2 A0.3,0.3 0 0 1 168.4,607.2 Z" fill="#0a0a8a"/>
<path d="M166.3,607.2 A1.8,1.8 0 0 0 169.9,607.2 Z" fill="#8a0a0a"/>
<path d="M169.8,653 A0.5,0.5 0 0 1 170.8,653 Z" fill="#0a0a8a"/>
<path d="M167.7,653 A2.6,2.6 0 0 0 172.9,653 Z" fill="#8a0a0a"/>
<path d="M189.2,535 A0.3,0.3 0 0 1 189.8,535 Z" fill="#0a0a8a"/>
<path d="M189.2,535 A0.3,0.3 0 0 0 189.8,535 Z" fill="#8a0a0a"/>
<path d="M196.6,531.7 A0.6,0.6 0 0 1 197.8,531.7 Z" fill="#0a0a8a"/>
<path d="M196.9,531.7 A0.3,0.3 0 0 0 197.5,531.7 Z" fill="#8a0a0a"/>
<path d="M203.5,529.1 A0.7,0.7 0 0 1 204.9,529.1 Z" fill="#0a0a8a"/>
<path d="M203.9,529.1 A0.3,0.3 0 0 0 204.5,529.1 Z" fill="#8a0a0a"/>
<path d="M212.8,526 A0.9,0.9 0 0 1 214.6,526 Z" fill="#0a0a8a"/>
<path d="M213.3,526 A0.4,0.4 0 0 0 214.1,526 Z" fill="#8a0a0a"/>
<path d="M223.2,522.7 A1.1,1.1 0 0 1 225.4,522.7 Z" fill="#0a0a8a"/>
<path d="M223.7,522.7 A0.6,0.6 0 0 0 224.9,522.7 Z" fill="#8a0a0a"/>
<path d="M239.6,518.6 A1.9,1.9 0 0 1 243.4,518.6 Z" fill="#0a0a8a"/>
<path d="M240.5,518.6 A1,1 0 0 0 242.5,518.6 Z" fill="#8a0a0a"/>
<path d="M45.5,624.6 C52,624.4 58,626 63,627.2 C66,628 68.5,628.3 70.5,628.3" fill="none" stroke="#0a0a8a" stroke-width="2.6" stroke-linecap="round"/>
<path d="M46.5,650.6 C52,650.2 58,648 63,646.6 C66,645.8 68.5,645.6 70.5,645.6" fill="none" stroke="#8a0a0a" stroke-width="2.4" stroke-linecap="round"/>
<path d="M32.4,637.6 A13.9,13.9 0 0 1 60.2,637.6 Z" fill="#0a0a8a"/>
<path d="M32.4,637.6 A13.9,13.9 0 0 0 60.2,637.6 Z" fill="#8a0a0a"/>
<text x="77.2" y="631.5" font-size="8.7" text-anchor="start" fill="#231f20" textLength="20" lengthAdjust="spacingAndGlyphs">PD-L1</text>
<text x="77.2" y="648.8" font-size="8.7" text-anchor="start" fill="#231f20" textLength="20" lengthAdjust="spacingAndGlyphs">PD-L2</text>
<line x1="310.5" y1="450.2" x2="310.5" y2="570.8" stroke="#231f20" stroke-width="1.1"/>
<line x1="310" y1="570.5" x2="486" y2="570.5" stroke="#231f20" stroke-width="1.1"/>
<line x1="307" y1="570.5" x2="310.5" y2="570.5" stroke="#231f20" stroke-width="1"/>
<text x="304" y="573.2" font-size="8.2" text-anchor="end" fill="#231f20">0</text>
<line x1="307" y1="546.5" x2="310.5" y2="546.5" stroke="#231f20" stroke-width="1"/>
<text x="304" y="549.8" font-size="8.2" text-anchor="end" fill="#231f20">20</text>
<line x1="307" y1="523.5" x2="310.5" y2="523.5" stroke="#231f20" stroke-width="1"/>
<text x="304" y="526.4" font-size="8.2" text-anchor="end" fill="#231f20">40</text>
<line x1="307" y1="500.5" x2="310.5" y2="500.5" stroke="#231f20" stroke-width="1"/>
<text x="304" y="503" font-size="8.2" text-anchor="end" fill="#231f20">60</text>
<line x1="307" y1="476.5" x2="310.5" y2="476.5" stroke="#231f20" stroke-width="1"/>
<text x="304" y="479.6" font-size="8.2" text-anchor="end" fill="#231f20">80</text>
<line x1="307" y1="453.5" x2="310.5" y2="453.5" stroke="#231f20" stroke-width="1"/>
<text x="304" y="456.2" font-size="8.2" text-anchor="end" fill="#231f20">100</text>
<line x1="339.5" y1="570.3" x2="339.5" y2="573.1" stroke="#231f20" stroke-width="1"/>
<line x1="397.5" y1="570.3" x2="397.5" y2="573.1" stroke="#231f20" stroke-width="1"/>
<line x1="456.5" y1="570.3" x2="456.5" y2="573.1" stroke="#231f20" stroke-width="1"/>
<text x="339.5" y="583.4" font-size="8.5" text-anchor="middle" fill="#231f20" textLength="11.5" lengthAdjust="spacingAndGlyphs">1:1</text>
<text x="397.8" y="583.4" font-size="8.5" text-anchor="middle" fill="#231f20" textLength="11.5" lengthAdjust="spacingAndGlyphs">2:1</text>
<text x="456.1" y="583.4" font-size="8.5" text-anchor="middle" fill="#231f20" textLength="11.5" lengthAdjust="spacingAndGlyphs">5:1</text>
<text x="398.5" y="596.3" font-size="9.2" text-anchor="middle" fill="#231f20" textLength="121.6" lengthAdjust="spacingAndGlyphs">Responder : stimulator CD8+ T cell</text>
<text x="285.3" y="509.9" font-size="9.1" text-anchor="middle" fill="#231f20" textLength="120.8" lengthAdjust="spacingAndGlyphs" transform="rotate(-90 285.3 509.9)">% proliferating CD8<tspan font-size="6.2" dy="-3.6">+</tspan><tspan dy="3.6"> T cells in MLR</tspan></text>
<polyline points="355.2,560 390,533.1 448.3,519.8 456.2,518.2" fill="none" stroke="#5b2c84" stroke-width="0.85"/>
<polyline points="331.7,560 413.7,529.9 448.3,519.8" fill="none" stroke="#5b2c84" stroke-width="0.85"/>
<polyline points="339.4,560 405.7,534.2 456.2,526.4 464.3,522.4" fill="none" stroke="#5b2c84" stroke-width="0.85"/>
<polyline points="347.2,560 397.8,536.1 456.2,526.4" fill="none" stroke="#5b2c84" stroke-width="0.85"/>
<polyline points="331.7,560 390,560 456.2,549 464.3,547.5 472,543.6" fill="none" stroke="#bb1540" stroke-width="0.85"/>
<polyline points="339.4,560 397.8,559.8 456.2,549" fill="none" stroke="#bb1540" stroke-width="0.85"/>
<polyline points="347.2,560 405.7,559.5 448.7,545.1" fill="none" stroke="#bb1540" stroke-width="0.85"/>
<polyline points="355.2,560 413.7,559 448.7,545.1" fill="none" stroke="#bb1540" stroke-width="0.85"/>
<polyline points="331.7,561.4 472,561.4" fill="none" stroke="#6cbf48" stroke-width="1.0"/>
<polyline points="331.7,561.4 472,561.4" fill="none" stroke="#e8962a" stroke-width="1.3"/>
<polyline points="331.7,560.2 472,560.2" fill="none" stroke="#2a4893" stroke-width="1.7"/>
<polygon points="329.3,564.19 334.1,564.19 331.7,560.03" fill="#fff" stroke="#6cbf48" stroke-width="0.9"/>
<polygon points="329.1,558.1 334.3,558.1 331.7,562.6" fill="#fff" stroke="#bb1540" stroke-width="1.0"/>
<polygon points="337,564.19 341.8,564.19 339.4,560.03" fill="#fff" stroke="#6cbf48" stroke-width="0.9"/>
<polygon points="336.8,558.1 342,558.1 339.4,562.6" fill="#fff" stroke="#bb1540" stroke-width="1.0"/>
<polygon points="344.8,564.19 349.6,564.19 347.2,560.03" fill="#fff" stroke="#6cbf48" stroke-width="0.9"/>
<polygon points="344.6,558.1 349.8,558.1 347.2,562.6" fill="#fff" stroke="#bb1540" stroke-width="1.0"/>
<polygon points="352.8,564.19 357.6,564.19 355.2,560.03" fill="#fff" stroke="#6cbf48" stroke-width="0.9"/>
<polygon points="352.6,558.1 357.8,558.1 355.2,562.6" fill="#fff" stroke="#bb1540" stroke-width="1.0"/>
<polygon points="387.6,564.19 392.4,564.19 390,560.03" fill="#fff" stroke="#6cbf48" stroke-width="0.9"/>
<polygon points="387.4,558.1 392.6,558.1 390,562.6" fill="#fff" stroke="#bb1540" stroke-width="1.0"/>
<polygon points="395.4,564.19 400.2,564.19 397.8,560.03" fill="#fff" stroke="#6cbf48" stroke-width="0.9"/>
<polygon points="395.2,558.1 400.4,558.1 397.8,562.6" fill="#fff" stroke="#bb1540" stroke-width="1.0"/>
<polygon points="403.3,564.19 408.1,564.19 405.7,560.03" fill="#fff" stroke="#6cbf48" stroke-width="0.9"/>
<polygon points="403.1,558.1 408.3,558.1 405.7,562.6" fill="#fff" stroke="#bb1540" stroke-width="1.0"/>
<polygon points="411.3,564.19 416.1,564.19 413.7,560.03" fill="#fff" stroke="#6cbf48" stroke-width="0.9"/>
<polygon points="411.1,558.1 416.3,558.1 413.7,562.6" fill="#fff" stroke="#bb1540" stroke-width="1.0"/>
<polygon points="446.1,564.19 450.9,564.19 448.5,560.03" fill="#fff" stroke="#6cbf48" stroke-width="0.9"/>
<polygon points="445.9,558.1 451.1,558.1 448.5,562.6" fill="#fff" stroke="#bb1540" stroke-width="1.0"/>
<polygon points="453.8,564.19 458.6,564.19 456.2,560.03" fill="#fff" stroke="#6cbf48" stroke-width="0.9"/>
<polygon points="453.6,558.1 458.8,558.1 456.2,562.6" fill="#fff" stroke="#bb1540" stroke-width="1.0"/>
<polygon points="461.9,564.19 466.7,564.19 464.3,560.03" fill="#fff" stroke="#6cbf48" stroke-width="0.9"/>
<polygon points="461.7,558.1 466.9,558.1 464.3,562.6" fill="#fff" stroke="#bb1540" stroke-width="1.0"/>
<polygon points="469.6,564.19 474.4,564.19 472,560.03" fill="#fff" stroke="#6cbf48" stroke-width="0.9"/>
<polygon points="469.4,558.1 474.6,558.1 472,562.6" fill="#fff" stroke="#bb1540" stroke-width="1.0"/>
<polygon points="390,530.4 392.7,533.1 390,535.8 387.3,533.1" fill="#fff" stroke="#5b2c84" stroke-width="1.0"/>
<polygon points="448.3,517.1 451,519.8 448.3,522.5 445.6,519.8" fill="#fff" stroke="#5b2c84" stroke-width="1.0"/>
<polygon points="456.2,515.5 458.9,518.2 456.2,520.9 453.5,518.2" fill="#fff" stroke="#5b2c84" stroke-width="1.0"/>
<polygon points="413.7,527.2 416.4,529.9 413.7,532.6 411,529.9" fill="#fff" stroke="#5b2c84" stroke-width="1.0"/>
<polygon points="448.3,517.1 451,519.8 448.3,522.5 445.6,519.8" fill="#fff" stroke="#5b2c84" stroke-width="1.0"/>
<polygon points="405.7,531.5 408.4,534.2 405.7,536.9 403,534.2" fill="#fff" stroke="#5b2c84" stroke-width="1.0"/>
<polygon points="456.2,523.7 458.9,526.4 456.2,529.1 453.5,526.4" fill="#fff" stroke="#5b2c84" stroke-width="1.0"/>
<polygon points="464.3,519.7 467,522.4 464.3,525.1 461.6,522.4" fill="#fff" stroke="#5b2c84" stroke-width="1.0"/>
<polygon points="397.8,533.4 400.5,536.1 397.8,538.8 395.1,536.1" fill="#fff" stroke="#5b2c84" stroke-width="1.0"/>
<polygon points="456.2,523.7 458.9,526.4 456.2,529.1 453.5,526.4" fill="#fff" stroke="#5b2c84" stroke-width="1.0"/>
<polygon points="453.6,547.5 458.8,547.5 456.2,552" fill="#fff" stroke="#bb1540" stroke-width="1.0"/>
<polygon points="461.7,546 466.9,546 464.3,550.5" fill="#fff" stroke="#bb1540" stroke-width="1.0"/>
<polygon points="469.4,542.1 474.6,542.1 472,546.6" fill="#fff" stroke="#bb1540" stroke-width="1.0"/>
<polygon points="453.6,547.5 458.8,547.5 456.2,552" fill="#fff" stroke="#bb1540" stroke-width="1.0"/>
<polygon points="446.1,543.6 451.3,543.6 448.7,548.1" fill="#fff" stroke="#bb1540" stroke-width="1.0"/>
<polygon points="446.1,543.6 451.3,543.6 448.7,548.1" fill="#fff" stroke="#bb1540" stroke-width="1.0"/>
<circle cx="331.7" cy="560" r="2.4" fill="#fff" stroke="#2a4893" stroke-width="0.9"/>
<circle cx="331.7" cy="561" r="2.2" fill="#e8962a" stroke="none" stroke-width="1"/>
<circle cx="331.7" cy="560.3" r="2.5" fill="none" stroke="#2a4893" stroke-width="0.8"/>
<circle cx="339.4" cy="560" r="2.4" fill="#fff" stroke="#2a4893" stroke-width="0.9"/>
<circle cx="339.4" cy="561" r="2.2" fill="#e8962a" stroke="none" stroke-width="1"/>
<circle cx="339.4" cy="560.3" r="2.5" fill="none" stroke="#2a4893" stroke-width="0.8"/>
<circle cx="347.2" cy="560" r="2.4" fill="#fff" stroke="#2a4893" stroke-width="0.9"/>
<circle cx="347.2" cy="561" r="2.2" fill="#e8962a" stroke="none" stroke-width="1"/>
<circle cx="347.2" cy="560.3" r="2.5" fill="none" stroke="#2a4893" stroke-width="0.8"/>
<circle cx="355.2" cy="560" r="2.4" fill="#fff" stroke="#2a4893" stroke-width="0.9"/>
<circle cx="355.2" cy="561" r="2.2" fill="#e8962a" stroke="none" stroke-width="1"/>
<circle cx="355.2" cy="560.3" r="2.5" fill="none" stroke="#2a4893" stroke-width="0.8"/>
<circle cx="390" cy="560" r="2.4" fill="#fff" stroke="#2a4893" stroke-width="0.9"/>
<circle cx="390" cy="561" r="2.2" fill="#e8962a" stroke="none" stroke-width="1"/>
<circle cx="390" cy="560.3" r="2.5" fill="none" stroke="#2a4893" stroke-width="0.8"/>
<circle cx="397.8" cy="560" r="2.4" fill="#fff" stroke="#2a4893" stroke-width="0.9"/>
<circle cx="397.8" cy="561" r="2.2" fill="#e8962a" stroke="none" stroke-width="1"/>
<circle cx="397.8" cy="560.3" r="2.5" fill="none" stroke="#2a4893" stroke-width="0.8"/>
<circle cx="405.7" cy="560" r="2.4" fill="#fff" stroke="#2a4893" stroke-width="0.9"/>
<circle cx="405.7" cy="561" r="2.2" fill="#e8962a" stroke="none" stroke-width="1"/>
<circle cx="405.7" cy="560.3" r="2.5" fill="none" stroke="#2a4893" stroke-width="0.8"/>
<circle cx="413.7" cy="560" r="2.4" fill="#fff" stroke="#2a4893" stroke-width="0.9"/>
<circle cx="413.7" cy="561" r="2.2" fill="#e8962a" stroke="none" stroke-width="1"/>
<circle cx="413.7" cy="560.3" r="2.5" fill="none" stroke="#2a4893" stroke-width="0.8"/>
<circle cx="448.5" cy="560" r="2.4" fill="#fff" stroke="#2a4893" stroke-width="0.9"/>
<circle cx="448.5" cy="561" r="2.2" fill="#e8962a" stroke="none" stroke-width="1"/>
<circle cx="448.5" cy="560.3" r="2.5" fill="none" stroke="#2a4893" stroke-width="0.8"/>
<circle cx="456.2" cy="560" r="2.4" fill="#fff" stroke="#2a4893" stroke-width="0.9"/>
<circle cx="456.2" cy="561" r="2.2" fill="#e8962a" stroke="none" stroke-width="1"/>
<circle cx="456.2" cy="560.3" r="2.5" fill="none" stroke="#2a4893" stroke-width="0.8"/>
<circle cx="464.3" cy="560" r="2.4" fill="#fff" stroke="#2a4893" stroke-width="0.9"/>
<circle cx="464.3" cy="561" r="2.2" fill="#e8962a" stroke="none" stroke-width="1"/>
<circle cx="464.3" cy="560.3" r="2.5" fill="none" stroke="#2a4893" stroke-width="0.8"/>
<circle cx="472" cy="560" r="2.4" fill="#fff" stroke="#2a4893" stroke-width="0.9"/>
<circle cx="472" cy="561" r="2.2" fill="#e8962a" stroke="none" stroke-width="1"/>
<circle cx="472" cy="560.3" r="2.5" fill="none" stroke="#2a4893" stroke-width="0.8"/>
<line x1="321.5" y1="453.5" x2="335.3" y2="453.5" stroke="#2a4893" stroke-width="0.9"/>
<circle cx="328.6" cy="453.7" r="2.4" fill="none" stroke="#2a4893" stroke-width="0.9"/>
<text x="338.2" y="456.6" font-size="8.2" text-anchor="start" fill="#231f20" textLength="32.7" lengthAdjust="spacingAndGlyphs">LCH-CD8</text>
<line x1="321.5" y1="464.5" x2="335.3" y2="464.5" stroke="#e8962a" stroke-width="0.9"/>
<circle cx="328.6" cy="464.3" r="2.2" fill="#e8962a" stroke="none" stroke-width="1"/>
<text x="338.2" y="467.2" font-size="8.2" text-anchor="start" fill="#231f20" textLength="30.2" lengthAdjust="spacingAndGlyphs">LCH-IL-2</text>
<line x1="321.5" y1="474.5" x2="335.3" y2="474.5" stroke="#6cbf48" stroke-width="0.9"/>
<polygon points="326.2,475.89 331,475.89 328.6,471.73" fill="none" stroke="#6cbf48" stroke-width="0.9"/>
<text x="338.2" y="477.4" font-size="8.2" text-anchor="start" fill="#231f20" textLength="67.3" lengthAdjust="spacingAndGlyphs">LCH-CD8 + Isotype</text>
<line x1="321.5" y1="484.5" x2="335.3" y2="484.5" stroke="#bb1540" stroke-width="0.9"/>
<polygon points="326,483.1 331.2,483.1 328.6,487.6" fill="none" stroke="#bb1540" stroke-width="1.0"/>
<text x="338.2" y="487.5" font-size="8.2" text-anchor="start" fill="#231f20" textLength="69.8" lengthAdjust="spacingAndGlyphs">LCH-CD8 + &#945;-PD-L1</text>
<line x1="321.5" y1="494.5" x2="335.3" y2="494.5" stroke="#5b2c84" stroke-width="0.9"/>
<polygon points="328.6,492 331.3,494.7 328.6,497.4 325.9,494.7" fill="none" stroke="#5b2c84" stroke-width="1.0"/>
<text x="338.2" y="497.6" font-size="8.2" text-anchor="start" fill="#231f20" textLength="65.4" lengthAdjust="spacingAndGlyphs">LCH-CD8 + &#945;-PD-1</text>
<line x1="398.5" y1="542.1" x2="398.5" y2="552.7" stroke="#222" stroke-width="1.0"/>
<line x1="395.3" y1="542.5" x2="400.9" y2="542.5" stroke="#222" stroke-width="1.0"/>
<line x1="395.3" y1="552.5" x2="400.9" y2="552.5" stroke="#222" stroke-width="1.0"/>
<line x1="484.5" y1="546.2" x2="484.5" y2="557.3" stroke="#222" stroke-width="1.0"/>
<line x1="481.5" y1="546.5" x2="487.1" y2="546.5" stroke="#222" stroke-width="1.0"/>
<line x1="481.5" y1="557.5" x2="487.1" y2="557.5" stroke="#222" stroke-width="1.0"/>
<line x1="497.5" y1="520.8" x2="497.5" y2="557.3" stroke="#222" stroke-width="1.0"/>
<line x1="494.2" y1="520.5" x2="499.8" y2="520.5" stroke="#222" stroke-width="1.0"/>
<line x1="494.2" y1="557.5" x2="499.8" y2="557.5" stroke="#222" stroke-width="1.0"/>
<circle cx="403.1" cy="547.3" r="1.05" fill="#1c1c1c" stroke="none" stroke-width="1"/>
<circle cx="406.5" cy="547.3" r="1.05" fill="#1c1c1c" stroke="none" stroke-width="1"/>
<circle cx="489.2" cy="552" r="1.05" fill="#1c1c1c" stroke="none" stroke-width="1"/>
<circle cx="501.1" cy="538" r="1.05" fill="#1c1c1c" stroke="none" stroke-width="1"/>
<circle cx="504.5" cy="538" r="1.05" fill="#1c1c1c" stroke="none" stroke-width="1"/>
<circle cx="507.9" cy="538" r="1.05" fill="#1c1c1c" stroke="none" stroke-width="1"/>
<circle cx="511.3" cy="538" r="1.05" fill="#1c1c1c" stroke="none" stroke-width="1"/>
</svg></body></html>
